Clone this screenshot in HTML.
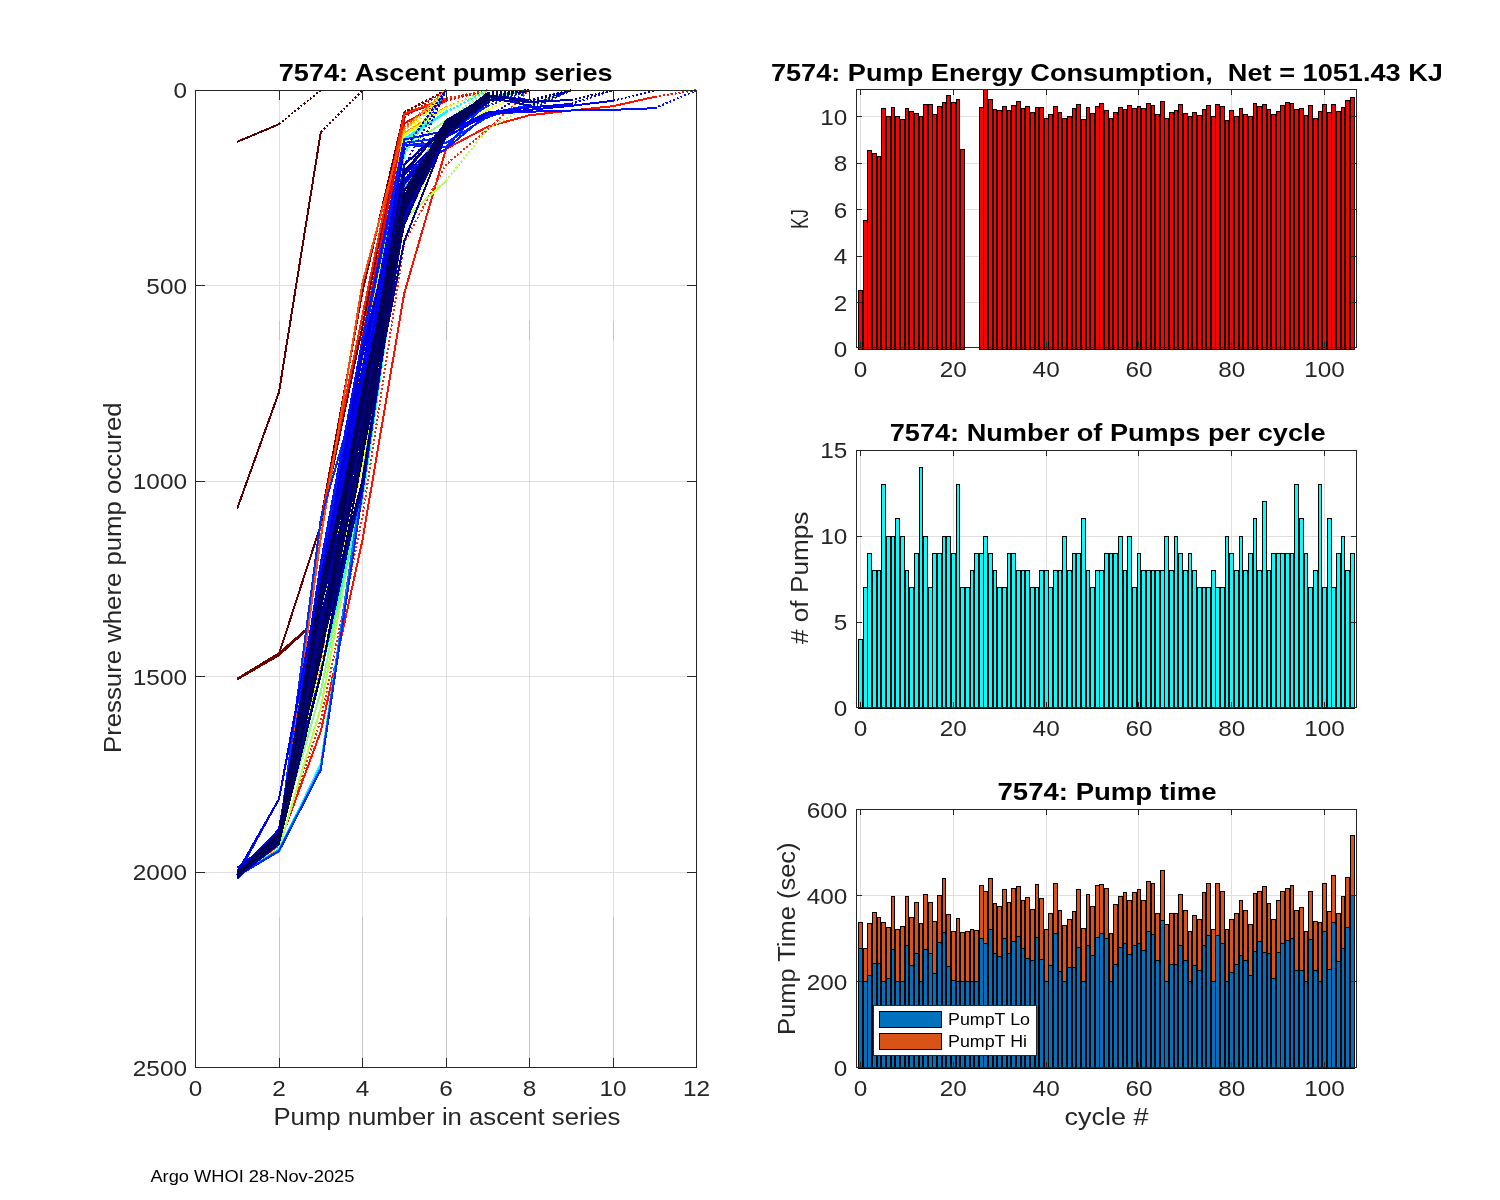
<!DOCTYPE html><html><head><meta charset="utf-8"><style>html,body{margin:0;padding:0;background:#fff;overflow:hidden}svg{display:block;will-change:transform}text{shape-rendering:auto}</style></head><body><svg width="1500" height="1200" viewBox="0 0 1500 1200" font-family="Liberation Sans, sans-serif" shape-rendering="crispEdges">
<rect width="1500" height="1200" fill="#fff"/>
<rect x="279" y="90" width="1" height="978" fill="#dfdfdf"/>
<rect x="279" y="321" width="1" height="19" fill="#c4c4c4"/>
<rect x="279" y="917" width="1" height="151" fill="#c4c4c4"/>
<rect x="362" y="90" width="1" height="978" fill="#dfdfdf"/>
<rect x="362" y="321" width="1" height="19" fill="#c4c4c4"/>
<rect x="362" y="917" width="1" height="151" fill="#c4c4c4"/>
<rect x="446" y="90" width="1" height="978" fill="#dfdfdf"/>
<rect x="446" y="321" width="1" height="19" fill="#c4c4c4"/>
<rect x="446" y="917" width="1" height="151" fill="#c4c4c4"/>
<rect x="529" y="90" width="1" height="978" fill="#dfdfdf"/>
<rect x="529" y="321" width="1" height="19" fill="#c4c4c4"/>
<rect x="529" y="917" width="1" height="151" fill="#c4c4c4"/>
<rect x="613" y="90" width="1" height="978" fill="#dfdfdf"/>
<rect x="613" y="321" width="1" height="19" fill="#c4c4c4"/>
<rect x="613" y="917" width="1" height="151" fill="#c4c4c4"/>
<rect x="195" y="285" width="502" height="1" fill="#dfdfdf"/>
<rect x="195" y="481" width="502" height="1" fill="#dfdfdf"/>
<rect x="195" y="676" width="502" height="1" fill="#dfdfdf"/>
<rect x="195" y="872" width="502" height="1" fill="#dfdfdf"/>
<g fill="none" stroke-width="2" stroke-linejoin="miter" shape-rendering="crispEdges">
<polyline stroke="#570000" points="237.2,141.8 279.0,124.2"/>
<polyline stroke="#570000" stroke-dasharray="2 2" points="279.0,124.2 320.8,90.2"/>
<polyline stroke="#610000" points="237.2,508.6 279.0,392.1 320.8,132.0"/>
<polyline stroke="#610000" stroke-dasharray="2 2" points="320.8,132.0 362.5,90.2"/>
<polyline stroke="#6b0000" points="237.2,679.4 279.0,654.0 320.8,525.0 362.5,326.4 404.2,112.1"/>
<polyline stroke="#6b0000" stroke-dasharray="2 2" points="404.2,112.1 446.0,90.2"/>
<polyline stroke="#6b0000" points="237.2,679.4 279.0,655.2 305.3,631.0"/>
<polyline stroke="#750000" points="237.2,678.7 279.0,653.2 305.3,630.2"/>
<polyline stroke="#800000" points="237.2,875.3 279.0,841.6 320.8,520.4 362.5,291.5 404.2,112.9"/>
<polyline stroke="#800000" stroke-dasharray="2 2" points="404.2,112.9 446.0,90.2"/>
<polyline stroke="#a80000" points="237.2,872.4 279.0,837.4 320.8,639.4 362.5,343.6 404.2,114.4 446.0,99.7"/>
<polyline stroke="#a80000" stroke-dasharray="2 2" points="446.0,99.7 487.8,90.2"/>
<polyline stroke="#d10000" points="237.2,875.7 279.0,842.5 320.8,605.7 362.5,389.7 404.2,117.6"/>
<polyline stroke="#d10000" stroke-dasharray="2 2" points="404.2,117.6 446.0,90.2"/>
<polyline stroke="#fa0000" points="237.2,876.3 279.0,838.1 320.8,610.7 362.5,337.3 404.2,123.4 446.0,100.7"/>
<polyline stroke="#fa0000" stroke-dasharray="2 2" points="446.0,100.7 487.8,90.2"/>
<polyline stroke="#ff2400" points="237.2,878.4 279.0,836.8 320.8,521.4 362.5,315.3 404.2,113.7 446.0,98.4"/>
<polyline stroke="#ff2400" stroke-dasharray="2 2" points="446.0,98.4 487.8,90.2"/>
<polyline stroke="#ff4c00" points="237.2,875.3 279.0,836.3 320.8,537.9 362.5,283.0 404.2,127.3"/>
<polyline stroke="#ff4c00" stroke-dasharray="2 2" points="404.2,127.3 446.0,90.2"/>
<polyline stroke="#ff7500" points="237.2,872.5 279.0,831.2 320.8,663.8 362.5,383.0 404.2,129.3"/>
<polyline stroke="#ff7500" stroke-dasharray="2 2" points="404.2,129.3 446.0,90.2"/>
<polyline stroke="#ff9e00" points="237.2,873.8 279.0,843.2 320.8,660.2 362.5,378.0 404.2,133.2 446.0,107.2"/>
<polyline stroke="#ff9e00" stroke-dasharray="2 2" points="446.0,107.2 487.8,90.2"/>
<polyline stroke="#ffc700" points="237.2,876.7 279.0,843.3 320.8,621.5 362.5,363.1 404.2,131.3"/>
<polyline stroke="#ffc700" stroke-dasharray="2 2" points="404.2,131.3 446.0,90.2"/>
<polyline stroke="#fff000" points="237.2,873.3 279.0,842.4 320.8,641.6 362.5,386.4 404.2,137.1"/>
<polyline stroke="#fff000" stroke-dasharray="2 2" points="404.2,137.1 446.0,90.2"/>
<polyline stroke="#e5ff1a" points="237.2,875.9 279.0,837.2 320.8,626.3 362.5,368.8 404.2,135.2 446.0,107.9"/>
<polyline stroke="#e5ff1a" stroke-dasharray="2 2" points="446.0,107.9 487.8,90.2"/>
<polyline stroke="#bdff42" points="237.2,874.5 279.0,836.4 320.8,660.1 362.5,386.3 404.2,144.9"/>
<polyline stroke="#bdff42" stroke-dasharray="2 2" points="404.2,144.9 446.0,90.2"/>
<polyline stroke="#94ff6b" points="237.2,870.3 279.0,839.2 320.8,614.4 362.5,366.5 404.2,148.9 446.0,120.7"/>
<polyline stroke="#94ff6b" stroke-dasharray="2 2" points="446.0,120.7 487.8,90.2"/>
<polyline stroke="#6bff94" points="237.2,878.4 279.0,839.9 320.8,653.5 362.5,397.0 404.2,152.8"/>
<polyline stroke="#6bff94" stroke-dasharray="2 2" points="404.2,152.8 446.0,90.2"/>
<polyline stroke="#42ffbd" points="237.2,873.8 279.0,840.2 320.8,609.8 362.5,381.3 404.2,141.0 446.0,112.4"/>
<polyline stroke="#42ffbd" stroke-dasharray="2 2" points="446.0,112.4 487.8,90.2"/>
<polyline stroke="#1affe5" points="237.2,875.0 279.0,837.2 320.8,643.4 362.5,407.9 404.2,154.7"/>
<polyline stroke="#1affe5" stroke-dasharray="2 2" points="404.2,154.7 446.0,90.2"/>
<polyline stroke="#00faff" points="237.2,875.1 279.0,834.3 320.8,588.0 362.5,374.8 404.2,139.1 446.0,111.9"/>
<polyline stroke="#00faff" stroke-dasharray="2 2" points="446.0,111.9 487.8,90.2"/>
<polyline stroke="#ff0f00" points="237.2,876.1 279.0,844.8 320.8,731.4 362.5,539.9 404.2,293.5 446.0,148.9 487.8,126.6 529.5,115.2 571.2,110.5 613.0,106.2 654.8,96.8"/>
<polyline stroke="#ff0f00" stroke-dasharray="2 2" points="654.8,96.8 696.5,90.2"/>
<polyline stroke="#ff2400" stroke-dasharray="2 2" points="237.2,875.3 279.0,846.8 320.8,719.7 362.5,516.4 404.2,242.7 446.0,164.5 487.8,129.3 529.5,90.2"/>
<polyline stroke="#b3ff4c" points="237.2,875.3 279.0,848.7 320.8,708.0 362.5,485.1 404.2,219.2 446.0,180.9"/>
<polyline stroke="#b3ff4c" stroke-dasharray="2 2" points="446.0,180.9 487.8,128.5 529.5,105.8 571.2,90.2"/>
<polyline stroke="#80ff80" points="237.2,872.0 279.0,836.7 320.8,691.4 362.5,484.5 404.2,199.7 446.0,137.1 487.8,109.8"/>
<polyline stroke="#80ff80" stroke-dasharray="2 2" points="487.8,109.8 529.5,90.2"/>
<polyline stroke="#2effd1" points="237.2,870.4 279.0,842.3 320.8,672.8 362.5,499.4 404.2,211.4 446.0,137.1 487.8,109.8"/>
<polyline stroke="#2effd1" stroke-dasharray="2 2" points="487.8,109.8 529.5,90.2"/>
<polyline stroke="#e5ff1a" points="237.2,876.6 279.0,837.6 320.8,649.3 362.5,464.6 404.2,223.1 446.0,137.1 487.8,109.8"/>
<polyline stroke="#e5ff1a" stroke-dasharray="2 2" points="487.8,109.8 529.5,90.2"/>
<polyline stroke="#faff05" stroke-dasharray="2 2" points="237.2,873.1 279.0,841.1 320.8,661.8 362.5,434.1 404.2,187.9 446.0,121.5 487.8,98.0 529.5,90.2"/>
<polyline stroke="#4dffb2" stroke-dasharray="2 2" points="237.2,871.3 279.0,838.6 320.8,639.1 362.5,396.1 404.2,187.9 446.0,121.5 487.8,98.0 529.5,90.2"/>
<polyline stroke="#00b2ff" stroke-dasharray="2 2" points="237.2,874.2 279.0,837.1 320.8,594.8 362.5,389.8 404.2,187.9 446.0,121.5 487.8,98.0 529.5,90.2"/>
<polyline stroke="#2effd1" points="237.2,876.1 279.0,851.5 320.8,763.6 362.5,482.4 404.2,207.5 446.0,133.2 487.8,105.8"/>
<polyline stroke="#2effd1" stroke-dasharray="2 2" points="487.8,105.8 529.5,90.2"/>
<polyline stroke="#00f0ff" points="237.2,876.1 279.0,849.6 320.8,766.1 362.5,490.0 404.2,207.5 446.0,133.2 487.8,105.8"/>
<polyline stroke="#00f0ff" stroke-dasharray="2 2" points="487.8,105.8 529.5,90.2"/>
<polyline stroke="#0080ff" points="237.2,876.1 279.0,850.0 320.8,768.2 362.5,478.4 404.2,207.5 446.0,133.2 487.8,105.8"/>
<polyline stroke="#0080ff" stroke-dasharray="2 2" points="487.8,105.8 529.5,90.2"/>
<polyline stroke="#0024ff" points="237.2,876.1 279.0,851.2 320.8,769.8 362.5,492.0 404.2,207.5 446.0,133.2 487.8,105.8"/>
<polyline stroke="#0024ff" stroke-dasharray="2 2" points="487.8,105.8 529.5,90.2"/>
<polyline stroke="#002eff" points="237.2,875.8 279.0,837.4 320.8,519.0 362.5,374.2 404.2,144.9 446.0,143.0 487.8,116.8 529.5,105.3"/>
<polyline stroke="#002eff" stroke-dasharray="2 2" points="529.5,105.3 571.2,90.2"/>
<polyline stroke="#0028ff" points="237.2,874.8 279.0,842.8 320.8,587.6 362.5,379.0 404.2,142.9 446.0,137.3 487.8,113.5 529.5,105.2"/>
<polyline stroke="#0028ff" stroke-dasharray="2 2" points="529.5,105.2 571.2,90.2"/>
<polyline stroke="#0021ff" points="237.2,872.0 279.0,840.4 320.8,568.1 362.5,345.5 404.2,144.8 446.0,147.5 487.8,101.1"/>
<polyline stroke="#0021ff" stroke-dasharray="2 2" points="487.8,101.1 529.5,90.2"/>
<polyline stroke="#001bff" points="237.2,875.3 279.0,798.9 320.8,582.1 362.5,412.9 404.2,172.5 446.0,149.0 487.8,113.9 529.5,110.3"/>
<polyline stroke="#001bff" stroke-dasharray="2 2" points="529.5,110.3 571.2,90.2"/>
<polyline stroke="#0015ff" points="237.2,878.5 279.0,841.6 320.8,562.8 362.5,339.6 404.2,139.5 446.0,130.9 487.8,114.7 529.5,106.8"/>
<polyline stroke="#0015ff" stroke-dasharray="2 2" points="529.5,106.8 571.2,90.2"/>
<polyline stroke="#000fff" points="237.2,875.2 279.0,842.6 320.8,563.9 362.5,391.1 404.2,180.1 446.0,133.2 487.8,113.7 529.5,111.7 571.2,110.5 613.0,109.8 654.8,108.2"/>
<polyline stroke="#000fff" stroke-dasharray="2 2" points="654.8,108.2 696.5,90.2"/>
<polyline stroke="#0008ff" points="237.2,873.7 279.0,837.4 320.8,582.3 362.5,367.9 404.2,165.6"/>
<polyline stroke="#0008ff" stroke-dasharray="2 2" points="404.2,165.6 446.0,90.2"/>
<polyline stroke="#0002ff" points="237.2,871.7 279.0,829.4 320.8,584.5 362.5,386.0 404.2,164.8 446.0,127.3 487.8,117.6"/>
<polyline stroke="#0002ff" stroke-dasharray="2 2" points="487.8,117.6 529.5,90.2"/>
<polyline stroke="#0000fb" points="237.2,877.1 279.0,844.0 320.8,593.3 362.5,376.0 404.2,183.3 446.0,132.5 487.8,112.5 529.5,107.5 571.2,103.9"/>
<polyline stroke="#0000fb" stroke-dasharray="2 2" points="571.2,103.9 613.0,90.2"/>
<polyline stroke="#0000f4" points="237.2,872.4 279.0,799.0 320.8,575.6 362.5,392.3 404.2,149.3"/>
<polyline stroke="#0000f4" stroke-dasharray="2 2" points="404.2,149.3 446.0,90.2"/>
<polyline stroke="#0000ee" points="237.2,871.9 279.0,839.6 320.8,599.8 362.5,384.6 404.2,183.3"/>
<polyline stroke="#0000ee" stroke-dasharray="2 2" points="404.2,183.3 446.0,90.2"/>
<polyline stroke="#0000e8" points="237.2,867.9 279.0,836.1 320.8,578.1 362.5,368.3 404.2,150.2"/>
<polyline stroke="#0000e8" stroke-dasharray="2 2" points="404.2,150.2 446.0,90.2"/>
<polyline stroke="#0000e2" points="237.2,874.5 279.0,836.3 320.8,580.6 362.5,348.6 404.2,184.0 446.0,137.1 487.8,114.4 529.5,109.8 571.2,105.8 613.0,100.8"/>
<polyline stroke="#0000e2" stroke-dasharray="2 2" points="613.0,100.8 654.8,90.2"/>
<polyline stroke="#0000d1" points="237.2,874.5 279.0,840.6 320.8,583.2 362.5,354.9 404.2,174.2 446.0,123.0 487.8,101.0"/>
<polyline stroke="#0000d1" stroke-dasharray="2 2" points="487.8,101.0 529.5,90.2"/>
<polyline stroke="#0000cd" points="237.2,873.7 279.0,834.4 320.8,673.1 362.5,481.4 404.2,219.3 446.0,137.1 487.8,99.7"/>
<polyline stroke="#0000cd" stroke-dasharray="2 2" points="487.8,99.7 529.5,90.2"/>
<polyline stroke="#0000c9" points="237.2,874.2 279.0,832.4 320.8,629.7 362.5,444.7 404.2,204.4 446.0,120.5 487.8,95.9"/>
<polyline stroke="#0000c9" stroke-dasharray="2 2" points="487.8,95.9 529.5,90.2"/>
<polyline stroke="#0000c4" points="237.2,875.1 279.0,839.2 320.8,656.1 362.5,446.5 404.2,216.8 446.0,131.7 487.8,95.3"/>
<polyline stroke="#0000c4" stroke-dasharray="2 2" points="487.8,95.3 529.5,90.2"/>
<polyline stroke="#0000c0" points="237.2,875.0 279.0,835.7 320.8,628.0 362.5,414.4 404.2,181.5 446.0,134.6 487.8,95.4 529.5,100.0"/>
<polyline stroke="#0000c0" stroke-dasharray="2 2" points="529.5,100.0 571.2,90.2"/>
<polyline stroke="#0000bc" points="237.2,873.8 279.0,838.1 320.8,591.7 362.5,420.7 404.2,174.4 446.0,135.9 487.8,96.6"/>
<polyline stroke="#0000bc" stroke-dasharray="2 2" points="487.8,96.6 529.5,90.2"/>
<polyline stroke="#0000b7" points="237.2,870.3 279.0,833.4 320.8,649.7 362.5,489.0 404.2,197.7 446.0,131.5 487.8,99.0"/>
<polyline stroke="#0000b7" stroke-dasharray="2 2" points="487.8,99.0 529.5,90.2"/>
<polyline stroke="#0000b3" points="237.2,877.1 279.0,839.1 320.8,605.2 362.5,452.3 404.2,196.4 446.0,128.1 487.8,99.0"/>
<polyline stroke="#0000b3" stroke-dasharray="2 2" points="487.8,99.0 529.5,90.2"/>
<polyline stroke="#0000af" points="237.2,877.0 279.0,843.4 320.8,648.2 362.5,414.7 404.2,204.0 446.0,133.6 487.8,99.6 529.5,101.9 571.2,100.0"/>
<polyline stroke="#0000af" stroke-dasharray="2 2" points="571.2,100.0 613.0,90.2"/>
<polyline stroke="#0000ab" points="237.2,871.9 279.0,838.0 320.8,603.0 362.5,418.1 404.2,164.6 446.0,126.5 487.8,100.5"/>
<polyline stroke="#0000ab" stroke-dasharray="2 2" points="487.8,100.5 529.5,90.2"/>
<polyline stroke="#0000a6" points="237.2,871.6 279.0,841.6 320.8,654.0 362.5,444.6 404.2,207.5 446.0,131.8 487.8,95.9"/>
<polyline stroke="#0000a6" stroke-dasharray="2 2" points="487.8,95.9 529.5,90.2"/>
<polyline stroke="#0000a2" points="237.2,872.0 279.0,836.3 320.8,624.1 362.5,445.3 404.2,210.0 446.0,127.2 487.8,96.9 529.5,105.6"/>
<polyline stroke="#0000a2" stroke-dasharray="2 2" points="529.5,105.6 571.2,90.2"/>
<polyline stroke="#00009e" points="237.2,873.1 279.0,842.6 320.8,627.4 362.5,427.5 404.2,205.2 446.0,128.6 487.8,96.8"/>
<polyline stroke="#00009e" stroke-dasharray="2 2" points="487.8,96.8 529.5,90.2"/>
<polyline stroke="#000099" points="237.2,872.3 279.0,840.4 320.8,631.8 362.5,455.6 404.2,241.4 446.0,134.6 487.8,95.5"/>
<polyline stroke="#000099" stroke-dasharray="2 2" points="487.8,95.5 529.5,90.2"/>
<polyline stroke="#000095" points="237.2,873.9 279.0,837.2 320.8,617.9 362.5,443.7 404.2,208.4 446.0,120.7 487.8,99.7"/>
<polyline stroke="#000095" stroke-dasharray="2 2" points="487.8,99.7 529.5,90.2"/>
<polyline stroke="#000091" points="237.2,872.4 279.0,838.4 320.8,642.8 362.5,436.9 404.2,199.5 446.0,128.2 487.8,98.2"/>
<polyline stroke="#000091" stroke-dasharray="2 2" points="487.8,98.2 529.5,90.2"/>
<polyline stroke="#00008d" points="237.2,875.8 279.0,843.5 320.8,599.8 362.5,446.2 404.2,200.7 446.0,123.7 487.8,95.2"/>
<polyline stroke="#00008d" stroke-dasharray="2 2" points="487.8,95.2 529.5,90.2"/>
<polyline stroke="#000088" points="237.2,873.9 279.0,840.6 320.8,656.2 362.5,445.2 404.2,206.4 446.0,132.1 487.8,102.7"/>
<polyline stroke="#000088" stroke-dasharray="2 2" points="487.8,102.7 529.5,90.2"/>
<polyline stroke="#000084" points="237.2,873.6 279.0,843.5 320.8,643.2 362.5,419.3 404.2,224.7 446.0,128.5 487.8,96.4"/>
<polyline stroke="#000084" stroke-dasharray="2 2" points="487.8,96.4 529.5,90.2"/>
<polyline stroke="#000080" points="237.2,873.2 279.0,843.9 320.8,608.2 362.5,396.3 404.2,203.9 446.0,122.8 487.8,95.2 529.5,101.8"/>
<polyline stroke="#000080" stroke-dasharray="2 2" points="529.5,101.8 571.2,90.2"/>
<polyline stroke="#00007c" points="237.2,873.7 279.0,836.5 320.8,638.8 362.5,401.0 404.2,203.0 446.0,130.8 487.8,99.9"/>
<polyline stroke="#00007c" stroke-dasharray="2 2" points="487.8,99.9 529.5,90.2"/>
<polyline stroke="#000077" points="237.2,875.1 279.0,841.6 320.8,609.0 362.5,390.7 404.2,205.5 446.0,126.0 487.8,92.8"/>
<polyline stroke="#000077" stroke-dasharray="2 2" points="487.8,92.8 529.5,90.2"/>
<polyline stroke="#000073" points="237.2,872.7 279.0,837.3 320.8,643.2 362.5,480.0 404.2,212.0 446.0,134.4 487.8,97.2"/>
<polyline stroke="#000073" stroke-dasharray="2 2" points="487.8,97.2 529.5,90.2"/>
<polyline stroke="#00006f" points="237.2,872.2 279.0,837.9 320.8,630.9 362.5,446.0 404.2,203.2 446.0,123.8 487.8,94.4"/>
<polyline stroke="#00006f" stroke-dasharray="2 2" points="487.8,94.4 529.5,90.2"/>
<polyline stroke="#00006a" points="237.2,875.1 279.0,836.5 320.8,643.4 362.5,443.4 404.2,203.8 446.0,133.9 487.8,95.4"/>
<polyline stroke="#00006a" stroke-dasharray="2 2" points="487.8,95.4 529.5,90.2"/>
<polyline stroke="#000066" points="237.2,874.4 279.0,839.1 320.8,590.3 362.5,409.0 404.2,171.1 446.0,125.6 487.8,97.5"/>
<polyline stroke="#000066" stroke-dasharray="2 2" points="487.8,97.5 529.5,90.2"/>
<polyline stroke="#000062" points="237.2,873.6 279.0,841.9 320.8,645.7 362.5,440.4 404.2,190.3 446.0,135.0 487.8,97.7"/>
<polyline stroke="#000062" stroke-dasharray="2 2" points="487.8,97.7 529.5,90.2"/>
<polyline stroke="#00005e" points="237.2,877.9 279.0,832.5 320.8,586.2 362.5,408.7 404.2,199.3 446.0,125.8 487.8,96.7"/>
<polyline stroke="#00005e" stroke-dasharray="2 2" points="487.8,96.7 529.5,90.2"/>
<polyline stroke="#000059" points="237.2,876.0 279.0,836.7 320.8,605.8 362.5,400.7 404.2,191.1 446.0,125.1 487.8,96.3"/>
<polyline stroke="#000059" stroke-dasharray="2 2" points="487.8,96.3 529.5,90.2"/>
<polyline stroke="#000055" points="237.2,873.1 279.0,835.6 320.8,588.9 362.5,428.2 404.2,195.9 446.0,121.4 487.8,96.8"/>
<polyline stroke="#000055" stroke-dasharray="2 2" points="487.8,96.8 529.5,90.2"/>
<polyline stroke="#000051" points="237.2,872.7 279.0,843.2 320.8,674.9 362.5,456.4 404.2,209.2 446.0,132.2 487.8,96.9"/>
<polyline stroke="#000051" stroke-dasharray="2 2" points="487.8,96.9 529.5,90.2"/>
<polyline stroke="#00004d" points="237.2,873.1 279.0,833.2 320.8,653.9 362.5,393.1 404.2,200.8 446.0,128.5 487.8,94.5"/>
<polyline stroke="#00004d" stroke-dasharray="2 2" points="487.8,94.5 529.5,90.2"/>
</g>
<rect x="195" y="90" width="502" height="1" fill="#262626"/>
<rect x="195" y="1067" width="502" height="1" fill="#262626"/>
<rect x="195" y="90" width="1" height="978" fill="#262626"/>
<rect x="696" y="90" width="1" height="978" fill="#262626"/>
<rect x="279" y="1058" width="1" height="10" fill="#262626"/>
<rect x="279" y="90" width="1" height="10" fill="#262626"/>
<rect x="362" y="1058" width="1" height="10" fill="#262626"/>
<rect x="362" y="90" width="1" height="10" fill="#262626"/>
<rect x="446" y="1058" width="1" height="10" fill="#262626"/>
<rect x="446" y="90" width="1" height="10" fill="#262626"/>
<rect x="529" y="1058" width="1" height="10" fill="#262626"/>
<rect x="529" y="90" width="1" height="10" fill="#262626"/>
<rect x="613" y="1058" width="1" height="10" fill="#262626"/>
<rect x="613" y="90" width="1" height="10" fill="#262626"/>
<rect x="195" y="285" width="10" height="1" fill="#262626"/>
<rect x="687" y="285" width="10" height="1" fill="#262626"/>
<rect x="195" y="481" width="10" height="1" fill="#262626"/>
<rect x="687" y="481" width="10" height="1" fill="#262626"/>
<rect x="195" y="676" width="10" height="1" fill="#262626"/>
<rect x="687" y="676" width="10" height="1" fill="#262626"/>
<rect x="195" y="872" width="10" height="1" fill="#262626"/>
<rect x="687" y="872" width="10" height="1" fill="#262626"/>
<text x="195.5" y="1095.7" font-size="21.9" text-anchor="middle" font-weight="normal" fill="#262626" textLength="13.55" lengthAdjust="spacingAndGlyphs">0</text>
<text x="279" y="1095.7" font-size="21.9" text-anchor="middle" font-weight="normal" fill="#262626" textLength="13.55" lengthAdjust="spacingAndGlyphs">2</text>
<text x="362.5" y="1095.7" font-size="21.9" text-anchor="middle" font-weight="normal" fill="#262626" textLength="13.55" lengthAdjust="spacingAndGlyphs">4</text>
<text x="446" y="1095.7" font-size="21.9" text-anchor="middle" font-weight="normal" fill="#262626" textLength="13.55" lengthAdjust="spacingAndGlyphs">6</text>
<text x="529.5" y="1095.7" font-size="21.9" text-anchor="middle" font-weight="normal" fill="#262626" textLength="13.55" lengthAdjust="spacingAndGlyphs">8</text>
<text x="613" y="1095.7" font-size="21.9" text-anchor="middle" font-weight="normal" fill="#262626" textLength="27.1" lengthAdjust="spacingAndGlyphs">10</text>
<text x="696.5" y="1095.7" font-size="21.9" text-anchor="middle" font-weight="normal" fill="#262626" textLength="27.1" lengthAdjust="spacingAndGlyphs">12</text>
<text x="187" y="98.2" font-size="21.9" text-anchor="end" font-weight="normal" fill="#262626" textLength="13.55" lengthAdjust="spacingAndGlyphs">0</text>
<text x="187" y="293.7" font-size="21.9" text-anchor="end" font-weight="normal" fill="#262626" textLength="40.65" lengthAdjust="spacingAndGlyphs">500</text>
<text x="187" y="489.2" font-size="21.9" text-anchor="end" font-weight="normal" fill="#262626" textLength="54.2" lengthAdjust="spacingAndGlyphs">1000</text>
<text x="187" y="684.7" font-size="21.9" text-anchor="end" font-weight="normal" fill="#262626" textLength="54.2" lengthAdjust="spacingAndGlyphs">1500</text>
<text x="187" y="880.2" font-size="21.9" text-anchor="end" font-weight="normal" fill="#262626" textLength="54.2" lengthAdjust="spacingAndGlyphs">2000</text>
<text x="187" y="1075.7" font-size="21.9" text-anchor="end" font-weight="normal" fill="#262626" textLength="54.2" lengthAdjust="spacingAndGlyphs">2500</text>
<text x="446.9" y="1124.9" font-size="24.4" text-anchor="middle" font-weight="normal" fill="#262626" textLength="347" lengthAdjust="spacingAndGlyphs">Pump number in ascent series</text>
<text transform="translate(121.2,577.7) rotate(-90)" font-size="24.4" text-anchor="middle" font-weight="normal" fill="#262626" textLength="350.5" lengthAdjust="spacingAndGlyphs">Pressure where pump occured</text>
<text x="445.7" y="81" font-size="24" text-anchor="middle" font-weight="bold" fill="#000" textLength="334" lengthAdjust="spacingAndGlyphs">7574: Ascent pump series</text>
<rect x="860" y="89" width="1" height="259" fill="#dfdfdf"/>
<rect x="953" y="89" width="1" height="259" fill="#dfdfdf"/>
<rect x="1046" y="89" width="1" height="259" fill="#dfdfdf"/>
<rect x="1138" y="89" width="1" height="259" fill="#dfdfdf"/>
<rect x="1231" y="89" width="1" height="259" fill="#dfdfdf"/>
<rect x="1324" y="89" width="1" height="259" fill="#dfdfdf"/>
<rect x="856" y="302" width="501" height="1" fill="#dfdfdf"/>
<rect x="856" y="256" width="501" height="1" fill="#dfdfdf"/>
<rect x="856" y="209" width="501" height="1" fill="#dfdfdf"/>
<rect x="856" y="163" width="501" height="1" fill="#dfdfdf"/>
<rect x="856" y="116" width="501" height="1" fill="#dfdfdf"/>
<rect x="858" y="290" width="5" height="60" fill="#000"/>
<rect x="859" y="291" width="3" height="58" fill="#ff0000"/>
<rect x="863" y="220" width="5" height="130" fill="#000"/>
<rect x="864" y="221" width="3" height="128" fill="#ff0000"/>
<rect x="867" y="150" width="5" height="200" fill="#000"/>
<rect x="868" y="151" width="3" height="198" fill="#ff0000"/>
<rect x="872" y="153" width="5" height="197" fill="#000"/>
<rect x="873" y="154" width="3" height="195" fill="#ff0000"/>
<rect x="877" y="156" width="4" height="194" fill="#000"/>
<rect x="878" y="157" width="2" height="192" fill="#ff0000"/>
<rect x="881" y="108" width="5" height="242" fill="#000"/>
<rect x="882" y="109" width="3" height="240" fill="#ff0000"/>
<rect x="886" y="116" width="5" height="234" fill="#000"/>
<rect x="887" y="117" width="3" height="232" fill="#ff0000"/>
<rect x="891" y="107" width="4" height="243" fill="#000"/>
<rect x="892" y="108" width="2" height="241" fill="#ff0000"/>
<rect x="895" y="116" width="5" height="234" fill="#000"/>
<rect x="896" y="117" width="3" height="232" fill="#ff0000"/>
<rect x="900" y="119" width="5" height="231" fill="#000"/>
<rect x="901" y="120" width="3" height="229" fill="#ff0000"/>
<rect x="905" y="108" width="4" height="242" fill="#000"/>
<rect x="906" y="109" width="2" height="240" fill="#ff0000"/>
<rect x="909" y="111" width="5" height="239" fill="#000"/>
<rect x="910" y="112" width="3" height="237" fill="#ff0000"/>
<rect x="914" y="113" width="5" height="237" fill="#000"/>
<rect x="915" y="114" width="3" height="235" fill="#ff0000"/>
<rect x="919" y="116" width="4" height="234" fill="#000"/>
<rect x="920" y="117" width="2" height="232" fill="#ff0000"/>
<rect x="923" y="104" width="5" height="246" fill="#000"/>
<rect x="924" y="105" width="3" height="244" fill="#ff0000"/>
<rect x="928" y="104" width="5" height="246" fill="#000"/>
<rect x="929" y="105" width="3" height="244" fill="#ff0000"/>
<rect x="932" y="114" width="5" height="236" fill="#000"/>
<rect x="933" y="115" width="3" height="234" fill="#ff0000"/>
<rect x="937" y="106" width="5" height="244" fill="#000"/>
<rect x="938" y="107" width="3" height="242" fill="#ff0000"/>
<rect x="942" y="102" width="4" height="248" fill="#000"/>
<rect x="943" y="103" width="2" height="246" fill="#ff0000"/>
<rect x="946" y="95" width="5" height="255" fill="#000"/>
<rect x="947" y="96" width="3" height="253" fill="#ff0000"/>
<rect x="951" y="102" width="5" height="248" fill="#000"/>
<rect x="952" y="103" width="3" height="246" fill="#ff0000"/>
<rect x="956" y="99" width="4" height="251" fill="#000"/>
<rect x="957" y="100" width="2" height="249" fill="#ff0000"/>
<rect x="960" y="149" width="5" height="201" fill="#000"/>
<rect x="961" y="150" width="3" height="199" fill="#ff0000"/>
<rect x="979" y="107" width="5" height="243" fill="#000"/>
<rect x="980" y="108" width="3" height="241" fill="#ff0000"/>
<rect x="983" y="89" width="5" height="261" fill="#000"/>
<rect x="984" y="90" width="3" height="259" fill="#ff0000"/>
<rect x="988" y="99" width="5" height="251" fill="#000"/>
<rect x="989" y="100" width="3" height="249" fill="#ff0000"/>
<rect x="993" y="109" width="4" height="241" fill="#000"/>
<rect x="994" y="110" width="2" height="239" fill="#ff0000"/>
<rect x="997" y="110" width="5" height="240" fill="#000"/>
<rect x="998" y="111" width="3" height="238" fill="#ff0000"/>
<rect x="1002" y="106" width="5" height="244" fill="#000"/>
<rect x="1003" y="107" width="3" height="242" fill="#ff0000"/>
<rect x="1007" y="110" width="4" height="240" fill="#000"/>
<rect x="1008" y="111" width="2" height="238" fill="#ff0000"/>
<rect x="1011" y="105" width="5" height="245" fill="#000"/>
<rect x="1012" y="106" width="3" height="243" fill="#ff0000"/>
<rect x="1016" y="101" width="5" height="249" fill="#000"/>
<rect x="1017" y="102" width="3" height="247" fill="#ff0000"/>
<rect x="1021" y="108" width="4" height="242" fill="#000"/>
<rect x="1022" y="109" width="2" height="240" fill="#ff0000"/>
<rect x="1025" y="106" width="5" height="244" fill="#000"/>
<rect x="1026" y="107" width="3" height="242" fill="#ff0000"/>
<rect x="1030" y="112" width="5" height="238" fill="#000"/>
<rect x="1031" y="113" width="3" height="236" fill="#ff0000"/>
<rect x="1035" y="107" width="4" height="243" fill="#000"/>
<rect x="1036" y="108" width="2" height="241" fill="#ff0000"/>
<rect x="1039" y="107" width="5" height="243" fill="#000"/>
<rect x="1040" y="108" width="3" height="241" fill="#ff0000"/>
<rect x="1044" y="118" width="5" height="232" fill="#000"/>
<rect x="1045" y="119" width="3" height="230" fill="#ff0000"/>
<rect x="1048" y="114" width="5" height="236" fill="#000"/>
<rect x="1049" y="115" width="3" height="234" fill="#ff0000"/>
<rect x="1053" y="106" width="5" height="244" fill="#000"/>
<rect x="1054" y="107" width="3" height="242" fill="#ff0000"/>
<rect x="1058" y="112" width="4" height="238" fill="#000"/>
<rect x="1059" y="113" width="2" height="236" fill="#ff0000"/>
<rect x="1062" y="118" width="5" height="232" fill="#000"/>
<rect x="1063" y="119" width="3" height="230" fill="#ff0000"/>
<rect x="1067" y="116" width="5" height="234" fill="#000"/>
<rect x="1068" y="117" width="3" height="232" fill="#ff0000"/>
<rect x="1072" y="108" width="4" height="242" fill="#000"/>
<rect x="1073" y="109" width="2" height="240" fill="#ff0000"/>
<rect x="1076" y="104" width="5" height="246" fill="#000"/>
<rect x="1077" y="105" width="3" height="244" fill="#ff0000"/>
<rect x="1081" y="119" width="5" height="231" fill="#000"/>
<rect x="1082" y="120" width="3" height="229" fill="#ff0000"/>
<rect x="1086" y="107" width="4" height="243" fill="#000"/>
<rect x="1087" y="108" width="2" height="241" fill="#ff0000"/>
<rect x="1090" y="113" width="5" height="237" fill="#000"/>
<rect x="1091" y="114" width="3" height="235" fill="#ff0000"/>
<rect x="1095" y="106" width="5" height="244" fill="#000"/>
<rect x="1096" y="107" width="3" height="242" fill="#ff0000"/>
<rect x="1099" y="103" width="5" height="247" fill="#000"/>
<rect x="1100" y="104" width="3" height="245" fill="#ff0000"/>
<rect x="1104" y="110" width="5" height="240" fill="#000"/>
<rect x="1105" y="111" width="3" height="238" fill="#ff0000"/>
<rect x="1109" y="118" width="4" height="232" fill="#000"/>
<rect x="1110" y="119" width="2" height="230" fill="#ff0000"/>
<rect x="1113" y="112" width="5" height="238" fill="#000"/>
<rect x="1114" y="113" width="3" height="236" fill="#ff0000"/>
<rect x="1118" y="107" width="5" height="243" fill="#000"/>
<rect x="1119" y="108" width="3" height="241" fill="#ff0000"/>
<rect x="1123" y="109" width="4" height="241" fill="#000"/>
<rect x="1124" y="110" width="2" height="239" fill="#ff0000"/>
<rect x="1127" y="105" width="5" height="245" fill="#000"/>
<rect x="1128" y="106" width="3" height="243" fill="#ff0000"/>
<rect x="1132" y="108" width="5" height="242" fill="#000"/>
<rect x="1133" y="109" width="3" height="240" fill="#ff0000"/>
<rect x="1137" y="106" width="4" height="244" fill="#000"/>
<rect x="1138" y="107" width="2" height="242" fill="#ff0000"/>
<rect x="1141" y="108" width="5" height="242" fill="#000"/>
<rect x="1142" y="109" width="3" height="240" fill="#ff0000"/>
<rect x="1146" y="103" width="5" height="247" fill="#000"/>
<rect x="1147" y="104" width="3" height="245" fill="#ff0000"/>
<rect x="1151" y="105" width="4" height="245" fill="#000"/>
<rect x="1152" y="106" width="2" height="243" fill="#ff0000"/>
<rect x="1155" y="114" width="5" height="236" fill="#000"/>
<rect x="1156" y="115" width="3" height="234" fill="#ff0000"/>
<rect x="1160" y="101" width="5" height="249" fill="#000"/>
<rect x="1161" y="102" width="3" height="247" fill="#ff0000"/>
<rect x="1164" y="118" width="5" height="232" fill="#000"/>
<rect x="1165" y="119" width="3" height="230" fill="#ff0000"/>
<rect x="1169" y="112" width="5" height="238" fill="#000"/>
<rect x="1170" y="113" width="3" height="236" fill="#ff0000"/>
<rect x="1174" y="110" width="4" height="240" fill="#000"/>
<rect x="1175" y="111" width="2" height="238" fill="#ff0000"/>
<rect x="1178" y="104" width="5" height="246" fill="#000"/>
<rect x="1179" y="105" width="3" height="244" fill="#ff0000"/>
<rect x="1183" y="113" width="5" height="237" fill="#000"/>
<rect x="1184" y="114" width="3" height="235" fill="#ff0000"/>
<rect x="1188" y="116" width="4" height="234" fill="#000"/>
<rect x="1189" y="117" width="2" height="232" fill="#ff0000"/>
<rect x="1192" y="112" width="5" height="238" fill="#000"/>
<rect x="1193" y="113" width="3" height="236" fill="#ff0000"/>
<rect x="1197" y="115" width="5" height="235" fill="#000"/>
<rect x="1198" y="116" width="3" height="233" fill="#ff0000"/>
<rect x="1202" y="109" width="4" height="241" fill="#000"/>
<rect x="1203" y="110" width="2" height="239" fill="#ff0000"/>
<rect x="1206" y="105" width="5" height="245" fill="#000"/>
<rect x="1207" y="106" width="3" height="243" fill="#ff0000"/>
<rect x="1211" y="116" width="5" height="234" fill="#000"/>
<rect x="1212" y="117" width="3" height="232" fill="#ff0000"/>
<rect x="1215" y="104" width="5" height="246" fill="#000"/>
<rect x="1216" y="105" width="3" height="244" fill="#ff0000"/>
<rect x="1220" y="106" width="5" height="244" fill="#000"/>
<rect x="1221" y="107" width="3" height="242" fill="#ff0000"/>
<rect x="1225" y="120" width="4" height="230" fill="#000"/>
<rect x="1226" y="121" width="2" height="228" fill="#ff0000"/>
<rect x="1229" y="110" width="5" height="240" fill="#000"/>
<rect x="1230" y="111" width="3" height="238" fill="#ff0000"/>
<rect x="1234" y="116" width="5" height="234" fill="#000"/>
<rect x="1235" y="117" width="3" height="232" fill="#ff0000"/>
<rect x="1239" y="108" width="4" height="242" fill="#000"/>
<rect x="1240" y="109" width="2" height="240" fill="#ff0000"/>
<rect x="1243" y="114" width="5" height="236" fill="#000"/>
<rect x="1244" y="115" width="3" height="234" fill="#ff0000"/>
<rect x="1248" y="116" width="5" height="234" fill="#000"/>
<rect x="1249" y="117" width="3" height="232" fill="#ff0000"/>
<rect x="1253" y="103" width="4" height="247" fill="#000"/>
<rect x="1254" y="104" width="2" height="245" fill="#ff0000"/>
<rect x="1257" y="106" width="5" height="244" fill="#000"/>
<rect x="1258" y="107" width="3" height="242" fill="#ff0000"/>
<rect x="1262" y="104" width="5" height="246" fill="#000"/>
<rect x="1263" y="105" width="3" height="244" fill="#ff0000"/>
<rect x="1267" y="109" width="4" height="241" fill="#000"/>
<rect x="1268" y="110" width="2" height="239" fill="#ff0000"/>
<rect x="1271" y="114" width="5" height="236" fill="#000"/>
<rect x="1272" y="115" width="3" height="234" fill="#ff0000"/>
<rect x="1276" y="111" width="5" height="239" fill="#000"/>
<rect x="1277" y="112" width="3" height="237" fill="#ff0000"/>
<rect x="1280" y="105" width="5" height="245" fill="#000"/>
<rect x="1281" y="106" width="3" height="243" fill="#ff0000"/>
<rect x="1285" y="102" width="5" height="248" fill="#000"/>
<rect x="1286" y="103" width="3" height="246" fill="#ff0000"/>
<rect x="1290" y="103" width="4" height="247" fill="#000"/>
<rect x="1291" y="104" width="2" height="245" fill="#ff0000"/>
<rect x="1294" y="109" width="5" height="241" fill="#000"/>
<rect x="1295" y="110" width="3" height="239" fill="#ff0000"/>
<rect x="1299" y="108" width="5" height="242" fill="#000"/>
<rect x="1300" y="109" width="3" height="240" fill="#ff0000"/>
<rect x="1304" y="115" width="4" height="235" fill="#000"/>
<rect x="1305" y="116" width="2" height="233" fill="#ff0000"/>
<rect x="1308" y="105" width="5" height="245" fill="#000"/>
<rect x="1309" y="106" width="3" height="243" fill="#ff0000"/>
<rect x="1313" y="118" width="5" height="232" fill="#000"/>
<rect x="1314" y="119" width="3" height="230" fill="#ff0000"/>
<rect x="1318" y="111" width="4" height="239" fill="#000"/>
<rect x="1319" y="112" width="2" height="237" fill="#ff0000"/>
<rect x="1322" y="104" width="5" height="246" fill="#000"/>
<rect x="1323" y="105" width="3" height="244" fill="#ff0000"/>
<rect x="1327" y="112" width="5" height="238" fill="#000"/>
<rect x="1328" y="113" width="3" height="236" fill="#ff0000"/>
<rect x="1331" y="104" width="5" height="246" fill="#000"/>
<rect x="1332" y="105" width="3" height="244" fill="#ff0000"/>
<rect x="1336" y="111" width="5" height="239" fill="#000"/>
<rect x="1337" y="112" width="3" height="237" fill="#ff0000"/>
<rect x="1341" y="107" width="4" height="243" fill="#000"/>
<rect x="1342" y="108" width="2" height="241" fill="#ff0000"/>
<rect x="1345" y="100" width="5" height="250" fill="#000"/>
<rect x="1346" y="101" width="3" height="248" fill="#ff0000"/>
<rect x="1350" y="97" width="5" height="253" fill="#000"/>
<rect x="1351" y="98" width="3" height="251" fill="#ff0000"/>
<rect x="856" y="89" width="501" height="1" fill="#262626"/>
<rect x="856" y="347" width="501" height="1" fill="#262626"/>
<rect x="856" y="89" width="1" height="259" fill="#262626"/>
<rect x="1356" y="89" width="1" height="259" fill="#262626"/>
<rect x="860" y="342" width="1" height="6" fill="#262626"/>
<rect x="860" y="89" width="1" height="6" fill="#262626"/>
<text x="860.55" y="377" font-size="21.9" text-anchor="middle" font-weight="normal" fill="#262626" textLength="13.55" lengthAdjust="spacingAndGlyphs">0</text>
<rect x="953" y="342" width="1" height="6" fill="#262626"/>
<rect x="953" y="89" width="1" height="6" fill="#262626"/>
<text x="953.35" y="377" font-size="21.9" text-anchor="middle" font-weight="normal" fill="#262626" textLength="27.1" lengthAdjust="spacingAndGlyphs">20</text>
<rect x="1046" y="342" width="1" height="6" fill="#262626"/>
<rect x="1046" y="89" width="1" height="6" fill="#262626"/>
<text x="1046.15" y="377" font-size="21.9" text-anchor="middle" font-weight="normal" fill="#262626" textLength="27.1" lengthAdjust="spacingAndGlyphs">40</text>
<rect x="1138" y="342" width="1" height="6" fill="#262626"/>
<rect x="1138" y="89" width="1" height="6" fill="#262626"/>
<text x="1138.95" y="377" font-size="21.9" text-anchor="middle" font-weight="normal" fill="#262626" textLength="27.1" lengthAdjust="spacingAndGlyphs">60</text>
<rect x="1231" y="342" width="1" height="6" fill="#262626"/>
<rect x="1231" y="89" width="1" height="6" fill="#262626"/>
<text x="1231.75" y="377" font-size="21.9" text-anchor="middle" font-weight="normal" fill="#262626" textLength="27.1" lengthAdjust="spacingAndGlyphs">80</text>
<rect x="1324" y="342" width="1" height="6" fill="#262626"/>
<rect x="1324" y="89" width="1" height="6" fill="#262626"/>
<text x="1324.55" y="377" font-size="21.9" text-anchor="middle" font-weight="normal" fill="#262626" textLength="40.65" lengthAdjust="spacingAndGlyphs">100</text>
<text x="847.3" y="357.3" font-size="21.9" text-anchor="end" font-weight="normal" fill="#262626" textLength="13.55" lengthAdjust="spacingAndGlyphs">0</text>
<rect x="856" y="302" width="6" height="1" fill="#262626"/>
<rect x="1351" y="302" width="6" height="1" fill="#262626"/>
<text x="847.3" y="310.8" font-size="21.9" text-anchor="end" font-weight="normal" fill="#262626" textLength="13.55" lengthAdjust="spacingAndGlyphs">2</text>
<rect x="856" y="256" width="6" height="1" fill="#262626"/>
<rect x="1351" y="256" width="6" height="1" fill="#262626"/>
<text x="847.3" y="264.3" font-size="21.9" text-anchor="end" font-weight="normal" fill="#262626" textLength="13.55" lengthAdjust="spacingAndGlyphs">4</text>
<rect x="856" y="209" width="6" height="1" fill="#262626"/>
<rect x="1351" y="209" width="6" height="1" fill="#262626"/>
<text x="847.3" y="217.8" font-size="21.9" text-anchor="end" font-weight="normal" fill="#262626" textLength="13.55" lengthAdjust="spacingAndGlyphs">6</text>
<rect x="856" y="163" width="6" height="1" fill="#262626"/>
<rect x="1351" y="163" width="6" height="1" fill="#262626"/>
<text x="847.3" y="171.3" font-size="21.9" text-anchor="end" font-weight="normal" fill="#262626" textLength="13.55" lengthAdjust="spacingAndGlyphs">8</text>
<rect x="856" y="116" width="6" height="1" fill="#262626"/>
<rect x="1351" y="116" width="6" height="1" fill="#262626"/>
<text x="847.3" y="124.8" font-size="21.9" text-anchor="end" font-weight="normal" fill="#262626" textLength="27.1" lengthAdjust="spacingAndGlyphs">10</text>
<text x="1106.9" y="80.6" font-size="24" text-anchor="middle" font-weight="bold" fill="#000" textLength="672" lengthAdjust="spacingAndGlyphs">7574: Pump Energy Consumption,&#160; Net = 1051.43 KJ</text>
<text transform="translate(808,219) rotate(-90)" font-size="24.4" text-anchor="middle" font-weight="normal" fill="#262626" textLength="19.5" lengthAdjust="spacingAndGlyphs">KJ</text>
<rect x="860" y="450" width="1" height="258" fill="#dfdfdf"/>
<rect x="953" y="450" width="1" height="258" fill="#dfdfdf"/>
<rect x="1046" y="450" width="1" height="258" fill="#dfdfdf"/>
<rect x="1138" y="450" width="1" height="258" fill="#dfdfdf"/>
<rect x="1231" y="450" width="1" height="258" fill="#dfdfdf"/>
<rect x="1324" y="450" width="1" height="258" fill="#dfdfdf"/>
<rect x="856" y="622" width="501" height="1" fill="#dfdfdf"/>
<rect x="856" y="536" width="501" height="1" fill="#dfdfdf"/>
<rect x="858" y="639" width="5" height="70" fill="#000"/>
<rect x="859" y="640" width="3" height="68" fill="#00ffff"/>
<rect x="863" y="587" width="5" height="122" fill="#000"/>
<rect x="864" y="588" width="3" height="120" fill="#00ffff"/>
<rect x="867" y="553" width="5" height="156" fill="#000"/>
<rect x="868" y="554" width="3" height="154" fill="#00ffff"/>
<rect x="872" y="570" width="5" height="139" fill="#000"/>
<rect x="873" y="571" width="3" height="137" fill="#00ffff"/>
<rect x="877" y="570" width="4" height="139" fill="#000"/>
<rect x="878" y="571" width="2" height="137" fill="#00ffff"/>
<rect x="881" y="484" width="5" height="225" fill="#000"/>
<rect x="882" y="485" width="3" height="223" fill="#00ffff"/>
<rect x="886" y="536" width="5" height="173" fill="#000"/>
<rect x="887" y="537" width="3" height="171" fill="#00ffff"/>
<rect x="891" y="536" width="4" height="173" fill="#000"/>
<rect x="892" y="537" width="2" height="171" fill="#00ffff"/>
<rect x="895" y="518" width="5" height="191" fill="#000"/>
<rect x="896" y="519" width="3" height="189" fill="#00ffff"/>
<rect x="900" y="536" width="5" height="173" fill="#000"/>
<rect x="901" y="537" width="3" height="171" fill="#00ffff"/>
<rect x="905" y="570" width="4" height="139" fill="#000"/>
<rect x="906" y="571" width="2" height="137" fill="#00ffff"/>
<rect x="909" y="587" width="5" height="122" fill="#000"/>
<rect x="910" y="588" width="3" height="120" fill="#00ffff"/>
<rect x="914" y="553" width="5" height="156" fill="#000"/>
<rect x="915" y="554" width="3" height="154" fill="#00ffff"/>
<rect x="919" y="467" width="4" height="242" fill="#000"/>
<rect x="920" y="468" width="2" height="240" fill="#00ffff"/>
<rect x="923" y="536" width="5" height="173" fill="#000"/>
<rect x="924" y="537" width="3" height="171" fill="#00ffff"/>
<rect x="928" y="587" width="5" height="122" fill="#000"/>
<rect x="929" y="588" width="3" height="120" fill="#00ffff"/>
<rect x="932" y="553" width="5" height="156" fill="#000"/>
<rect x="933" y="554" width="3" height="154" fill="#00ffff"/>
<rect x="937" y="553" width="5" height="156" fill="#000"/>
<rect x="938" y="554" width="3" height="154" fill="#00ffff"/>
<rect x="942" y="536" width="4" height="173" fill="#000"/>
<rect x="943" y="537" width="2" height="171" fill="#00ffff"/>
<rect x="946" y="536" width="5" height="173" fill="#000"/>
<rect x="947" y="537" width="3" height="171" fill="#00ffff"/>
<rect x="951" y="553" width="5" height="156" fill="#000"/>
<rect x="952" y="554" width="3" height="154" fill="#00ffff"/>
<rect x="956" y="484" width="4" height="225" fill="#000"/>
<rect x="957" y="485" width="2" height="223" fill="#00ffff"/>
<rect x="960" y="587" width="5" height="122" fill="#000"/>
<rect x="961" y="588" width="3" height="120" fill="#00ffff"/>
<rect x="965" y="587" width="5" height="122" fill="#000"/>
<rect x="966" y="588" width="3" height="120" fill="#00ffff"/>
<rect x="970" y="570" width="4" height="139" fill="#000"/>
<rect x="971" y="571" width="2" height="137" fill="#00ffff"/>
<rect x="974" y="553" width="5" height="156" fill="#000"/>
<rect x="975" y="554" width="3" height="154" fill="#00ffff"/>
<rect x="979" y="553" width="5" height="156" fill="#000"/>
<rect x="980" y="554" width="3" height="154" fill="#00ffff"/>
<rect x="983" y="536" width="5" height="173" fill="#000"/>
<rect x="984" y="537" width="3" height="171" fill="#00ffff"/>
<rect x="988" y="553" width="5" height="156" fill="#000"/>
<rect x="989" y="554" width="3" height="154" fill="#00ffff"/>
<rect x="993" y="570" width="4" height="139" fill="#000"/>
<rect x="994" y="571" width="2" height="137" fill="#00ffff"/>
<rect x="997" y="587" width="5" height="122" fill="#000"/>
<rect x="998" y="588" width="3" height="120" fill="#00ffff"/>
<rect x="1002" y="587" width="5" height="122" fill="#000"/>
<rect x="1003" y="588" width="3" height="120" fill="#00ffff"/>
<rect x="1007" y="553" width="4" height="156" fill="#000"/>
<rect x="1008" y="554" width="2" height="154" fill="#00ffff"/>
<rect x="1011" y="553" width="5" height="156" fill="#000"/>
<rect x="1012" y="554" width="3" height="154" fill="#00ffff"/>
<rect x="1016" y="570" width="5" height="139" fill="#000"/>
<rect x="1017" y="571" width="3" height="137" fill="#00ffff"/>
<rect x="1021" y="570" width="4" height="139" fill="#000"/>
<rect x="1022" y="571" width="2" height="137" fill="#00ffff"/>
<rect x="1025" y="570" width="5" height="139" fill="#000"/>
<rect x="1026" y="571" width="3" height="137" fill="#00ffff"/>
<rect x="1030" y="587" width="5" height="122" fill="#000"/>
<rect x="1031" y="588" width="3" height="120" fill="#00ffff"/>
<rect x="1035" y="587" width="4" height="122" fill="#000"/>
<rect x="1036" y="588" width="2" height="120" fill="#00ffff"/>
<rect x="1039" y="570" width="5" height="139" fill="#000"/>
<rect x="1040" y="571" width="3" height="137" fill="#00ffff"/>
<rect x="1044" y="570" width="5" height="139" fill="#000"/>
<rect x="1045" y="571" width="3" height="137" fill="#00ffff"/>
<rect x="1048" y="587" width="5" height="122" fill="#000"/>
<rect x="1049" y="588" width="3" height="120" fill="#00ffff"/>
<rect x="1053" y="570" width="5" height="139" fill="#000"/>
<rect x="1054" y="571" width="3" height="137" fill="#00ffff"/>
<rect x="1058" y="570" width="4" height="139" fill="#000"/>
<rect x="1059" y="571" width="2" height="137" fill="#00ffff"/>
<rect x="1062" y="536" width="5" height="173" fill="#000"/>
<rect x="1063" y="537" width="3" height="171" fill="#00ffff"/>
<rect x="1067" y="570" width="5" height="139" fill="#000"/>
<rect x="1068" y="571" width="3" height="137" fill="#00ffff"/>
<rect x="1072" y="553" width="4" height="156" fill="#000"/>
<rect x="1073" y="554" width="2" height="154" fill="#00ffff"/>
<rect x="1076" y="553" width="5" height="156" fill="#000"/>
<rect x="1077" y="554" width="3" height="154" fill="#00ffff"/>
<rect x="1081" y="518" width="5" height="191" fill="#000"/>
<rect x="1082" y="519" width="3" height="189" fill="#00ffff"/>
<rect x="1086" y="570" width="4" height="139" fill="#000"/>
<rect x="1087" y="571" width="2" height="137" fill="#00ffff"/>
<rect x="1090" y="587" width="5" height="122" fill="#000"/>
<rect x="1091" y="588" width="3" height="120" fill="#00ffff"/>
<rect x="1095" y="570" width="5" height="139" fill="#000"/>
<rect x="1096" y="571" width="3" height="137" fill="#00ffff"/>
<rect x="1099" y="570" width="5" height="139" fill="#000"/>
<rect x="1100" y="571" width="3" height="137" fill="#00ffff"/>
<rect x="1104" y="553" width="5" height="156" fill="#000"/>
<rect x="1105" y="554" width="3" height="154" fill="#00ffff"/>
<rect x="1109" y="553" width="4" height="156" fill="#000"/>
<rect x="1110" y="554" width="2" height="154" fill="#00ffff"/>
<rect x="1113" y="553" width="5" height="156" fill="#000"/>
<rect x="1114" y="554" width="3" height="154" fill="#00ffff"/>
<rect x="1118" y="536" width="5" height="173" fill="#000"/>
<rect x="1119" y="537" width="3" height="171" fill="#00ffff"/>
<rect x="1123" y="570" width="4" height="139" fill="#000"/>
<rect x="1124" y="571" width="2" height="137" fill="#00ffff"/>
<rect x="1127" y="536" width="5" height="173" fill="#000"/>
<rect x="1128" y="537" width="3" height="171" fill="#00ffff"/>
<rect x="1132" y="587" width="5" height="122" fill="#000"/>
<rect x="1133" y="588" width="3" height="120" fill="#00ffff"/>
<rect x="1137" y="553" width="4" height="156" fill="#000"/>
<rect x="1138" y="554" width="2" height="154" fill="#00ffff"/>
<rect x="1141" y="570" width="5" height="139" fill="#000"/>
<rect x="1142" y="571" width="3" height="137" fill="#00ffff"/>
<rect x="1146" y="570" width="5" height="139" fill="#000"/>
<rect x="1147" y="571" width="3" height="137" fill="#00ffff"/>
<rect x="1151" y="570" width="4" height="139" fill="#000"/>
<rect x="1152" y="571" width="2" height="137" fill="#00ffff"/>
<rect x="1155" y="570" width="5" height="139" fill="#000"/>
<rect x="1156" y="571" width="3" height="137" fill="#00ffff"/>
<rect x="1160" y="570" width="5" height="139" fill="#000"/>
<rect x="1161" y="571" width="3" height="137" fill="#00ffff"/>
<rect x="1164" y="536" width="5" height="173" fill="#000"/>
<rect x="1165" y="537" width="3" height="171" fill="#00ffff"/>
<rect x="1169" y="570" width="5" height="139" fill="#000"/>
<rect x="1170" y="571" width="3" height="137" fill="#00ffff"/>
<rect x="1174" y="536" width="4" height="173" fill="#000"/>
<rect x="1175" y="537" width="2" height="171" fill="#00ffff"/>
<rect x="1178" y="553" width="5" height="156" fill="#000"/>
<rect x="1179" y="554" width="3" height="154" fill="#00ffff"/>
<rect x="1183" y="570" width="5" height="139" fill="#000"/>
<rect x="1184" y="571" width="3" height="137" fill="#00ffff"/>
<rect x="1188" y="553" width="4" height="156" fill="#000"/>
<rect x="1189" y="554" width="2" height="154" fill="#00ffff"/>
<rect x="1192" y="570" width="5" height="139" fill="#000"/>
<rect x="1193" y="571" width="3" height="137" fill="#00ffff"/>
<rect x="1197" y="587" width="5" height="122" fill="#000"/>
<rect x="1198" y="588" width="3" height="120" fill="#00ffff"/>
<rect x="1202" y="587" width="4" height="122" fill="#000"/>
<rect x="1203" y="588" width="2" height="120" fill="#00ffff"/>
<rect x="1206" y="587" width="5" height="122" fill="#000"/>
<rect x="1207" y="588" width="3" height="120" fill="#00ffff"/>
<rect x="1211" y="570" width="5" height="139" fill="#000"/>
<rect x="1212" y="571" width="3" height="137" fill="#00ffff"/>
<rect x="1215" y="587" width="5" height="122" fill="#000"/>
<rect x="1216" y="588" width="3" height="120" fill="#00ffff"/>
<rect x="1220" y="587" width="5" height="122" fill="#000"/>
<rect x="1221" y="588" width="3" height="120" fill="#00ffff"/>
<rect x="1225" y="536" width="4" height="173" fill="#000"/>
<rect x="1226" y="537" width="2" height="171" fill="#00ffff"/>
<rect x="1229" y="553" width="5" height="156" fill="#000"/>
<rect x="1230" y="554" width="3" height="154" fill="#00ffff"/>
<rect x="1234" y="570" width="5" height="139" fill="#000"/>
<rect x="1235" y="571" width="3" height="137" fill="#00ffff"/>
<rect x="1239" y="536" width="4" height="173" fill="#000"/>
<rect x="1240" y="537" width="2" height="171" fill="#00ffff"/>
<rect x="1243" y="570" width="5" height="139" fill="#000"/>
<rect x="1244" y="571" width="3" height="137" fill="#00ffff"/>
<rect x="1248" y="553" width="5" height="156" fill="#000"/>
<rect x="1249" y="554" width="3" height="154" fill="#00ffff"/>
<rect x="1253" y="518" width="4" height="191" fill="#000"/>
<rect x="1254" y="519" width="2" height="189" fill="#00ffff"/>
<rect x="1257" y="570" width="5" height="139" fill="#000"/>
<rect x="1258" y="571" width="3" height="137" fill="#00ffff"/>
<rect x="1262" y="501" width="5" height="208" fill="#000"/>
<rect x="1263" y="502" width="3" height="206" fill="#00ffff"/>
<rect x="1267" y="570" width="4" height="139" fill="#000"/>
<rect x="1268" y="571" width="2" height="137" fill="#00ffff"/>
<rect x="1271" y="553" width="5" height="156" fill="#000"/>
<rect x="1272" y="554" width="3" height="154" fill="#00ffff"/>
<rect x="1276" y="553" width="5" height="156" fill="#000"/>
<rect x="1277" y="554" width="3" height="154" fill="#00ffff"/>
<rect x="1280" y="553" width="5" height="156" fill="#000"/>
<rect x="1281" y="554" width="3" height="154" fill="#00ffff"/>
<rect x="1285" y="553" width="5" height="156" fill="#000"/>
<rect x="1286" y="554" width="3" height="154" fill="#00ffff"/>
<rect x="1290" y="553" width="4" height="156" fill="#000"/>
<rect x="1291" y="554" width="2" height="154" fill="#00ffff"/>
<rect x="1294" y="484" width="5" height="225" fill="#000"/>
<rect x="1295" y="485" width="3" height="223" fill="#00ffff"/>
<rect x="1299" y="518" width="5" height="191" fill="#000"/>
<rect x="1300" y="519" width="3" height="189" fill="#00ffff"/>
<rect x="1304" y="553" width="4" height="156" fill="#000"/>
<rect x="1305" y="554" width="2" height="154" fill="#00ffff"/>
<rect x="1308" y="587" width="5" height="122" fill="#000"/>
<rect x="1309" y="588" width="3" height="120" fill="#00ffff"/>
<rect x="1313" y="570" width="5" height="139" fill="#000"/>
<rect x="1314" y="571" width="3" height="137" fill="#00ffff"/>
<rect x="1318" y="484" width="4" height="225" fill="#000"/>
<rect x="1319" y="485" width="2" height="223" fill="#00ffff"/>
<rect x="1322" y="587" width="5" height="122" fill="#000"/>
<rect x="1323" y="588" width="3" height="120" fill="#00ffff"/>
<rect x="1327" y="518" width="5" height="191" fill="#000"/>
<rect x="1328" y="519" width="3" height="189" fill="#00ffff"/>
<rect x="1331" y="587" width="5" height="122" fill="#000"/>
<rect x="1332" y="588" width="3" height="120" fill="#00ffff"/>
<rect x="1336" y="553" width="5" height="156" fill="#000"/>
<rect x="1337" y="554" width="3" height="154" fill="#00ffff"/>
<rect x="1341" y="536" width="4" height="173" fill="#000"/>
<rect x="1342" y="537" width="2" height="171" fill="#00ffff"/>
<rect x="1345" y="570" width="5" height="139" fill="#000"/>
<rect x="1346" y="571" width="3" height="137" fill="#00ffff"/>
<rect x="1350" y="553" width="5" height="156" fill="#000"/>
<rect x="1351" y="554" width="3" height="154" fill="#00ffff"/>
<rect x="856" y="450" width="501" height="1" fill="#262626"/>
<rect x="856" y="707" width="501" height="1" fill="#262626"/>
<rect x="856" y="450" width="1" height="258" fill="#262626"/>
<rect x="1356" y="450" width="1" height="258" fill="#262626"/>
<rect x="860" y="702" width="1" height="6" fill="#262626"/>
<rect x="860" y="450" width="1" height="6" fill="#262626"/>
<text x="860.55" y="736" font-size="21.9" text-anchor="middle" font-weight="normal" fill="#262626" textLength="13.55" lengthAdjust="spacingAndGlyphs">0</text>
<rect x="953" y="702" width="1" height="6" fill="#262626"/>
<rect x="953" y="450" width="1" height="6" fill="#262626"/>
<text x="953.35" y="736" font-size="21.9" text-anchor="middle" font-weight="normal" fill="#262626" textLength="27.1" lengthAdjust="spacingAndGlyphs">20</text>
<rect x="1046" y="702" width="1" height="6" fill="#262626"/>
<rect x="1046" y="450" width="1" height="6" fill="#262626"/>
<text x="1046.15" y="736" font-size="21.9" text-anchor="middle" font-weight="normal" fill="#262626" textLength="27.1" lengthAdjust="spacingAndGlyphs">40</text>
<rect x="1138" y="702" width="1" height="6" fill="#262626"/>
<rect x="1138" y="450" width="1" height="6" fill="#262626"/>
<text x="1138.95" y="736" font-size="21.9" text-anchor="middle" font-weight="normal" fill="#262626" textLength="27.1" lengthAdjust="spacingAndGlyphs">60</text>
<rect x="1231" y="702" width="1" height="6" fill="#262626"/>
<rect x="1231" y="450" width="1" height="6" fill="#262626"/>
<text x="1231.75" y="736" font-size="21.9" text-anchor="middle" font-weight="normal" fill="#262626" textLength="27.1" lengthAdjust="spacingAndGlyphs">80</text>
<rect x="1324" y="702" width="1" height="6" fill="#262626"/>
<rect x="1324" y="450" width="1" height="6" fill="#262626"/>
<text x="1324.55" y="736" font-size="21.9" text-anchor="middle" font-weight="normal" fill="#262626" textLength="40.65" lengthAdjust="spacingAndGlyphs">100</text>
<text x="847.3" y="716.32" font-size="21.9" text-anchor="end" font-weight="normal" fill="#262626" textLength="13.55" lengthAdjust="spacingAndGlyphs">0</text>
<rect x="856" y="622" width="6" height="1" fill="#262626"/>
<rect x="1351" y="622" width="6" height="1" fill="#262626"/>
<text x="847.3" y="630.32" font-size="21.9" text-anchor="end" font-weight="normal" fill="#262626" textLength="13.55" lengthAdjust="spacingAndGlyphs">5</text>
<rect x="856" y="536" width="6" height="1" fill="#262626"/>
<rect x="1351" y="536" width="6" height="1" fill="#262626"/>
<text x="847.3" y="544.32" font-size="21.9" text-anchor="end" font-weight="normal" fill="#262626" textLength="27.1" lengthAdjust="spacingAndGlyphs">10</text>
<text x="847.3" y="458.32" font-size="21.9" text-anchor="end" font-weight="normal" fill="#262626" textLength="27.1" lengthAdjust="spacingAndGlyphs">15</text>
<text x="1107.7" y="441" font-size="24" text-anchor="middle" font-weight="bold" fill="#000" textLength="436" lengthAdjust="spacingAndGlyphs">7574: Number of Pumps per cycle</text>
<text transform="translate(808,577.8) rotate(-90)" font-size="24.4" text-anchor="middle" font-weight="normal" fill="#262626" textLength="132.5" lengthAdjust="spacingAndGlyphs"># of Pumps</text>
<rect x="860" y="809" width="1" height="259" fill="#dfdfdf"/>
<rect x="953" y="809" width="1" height="259" fill="#dfdfdf"/>
<rect x="1046" y="809" width="1" height="259" fill="#dfdfdf"/>
<rect x="1138" y="809" width="1" height="259" fill="#dfdfdf"/>
<rect x="1231" y="809" width="1" height="259" fill="#dfdfdf"/>
<rect x="1324" y="809" width="1" height="259" fill="#dfdfdf"/>
<rect x="856" y="981" width="501" height="1" fill="#dfdfdf"/>
<rect x="856" y="895" width="501" height="1" fill="#dfdfdf"/>
<rect x="858" y="948" width="5" height="121" fill="#000"/>
<rect x="859" y="949" width="3" height="119" fill="#0072bd"/>
<rect x="858" y="922" width="5" height="27" fill="#000"/>
<rect x="859" y="923" width="3" height="25" fill="#d95319"/>
<rect x="863" y="981" width="5" height="88" fill="#000"/>
<rect x="864" y="982" width="3" height="86" fill="#0072bd"/>
<rect x="863" y="948" width="5" height="34" fill="#000"/>
<rect x="864" y="949" width="3" height="32" fill="#d95319"/>
<rect x="867" y="975" width="5" height="94" fill="#000"/>
<rect x="868" y="976" width="3" height="92" fill="#0072bd"/>
<rect x="867" y="923" width="5" height="53" fill="#000"/>
<rect x="868" y="924" width="3" height="51" fill="#d95319"/>
<rect x="872" y="963" width="5" height="106" fill="#000"/>
<rect x="873" y="964" width="3" height="104" fill="#0072bd"/>
<rect x="872" y="912" width="5" height="52" fill="#000"/>
<rect x="873" y="913" width="3" height="50" fill="#d95319"/>
<rect x="877" y="963" width="4" height="106" fill="#000"/>
<rect x="878" y="964" width="2" height="104" fill="#0072bd"/>
<rect x="877" y="917" width="4" height="47" fill="#000"/>
<rect x="878" y="918" width="2" height="45" fill="#d95319"/>
<rect x="881" y="981" width="5" height="88" fill="#000"/>
<rect x="882" y="982" width="3" height="86" fill="#0072bd"/>
<rect x="881" y="922" width="5" height="60" fill="#000"/>
<rect x="882" y="923" width="3" height="58" fill="#d95319"/>
<rect x="886" y="978" width="5" height="91" fill="#000"/>
<rect x="887" y="979" width="3" height="89" fill="#0072bd"/>
<rect x="886" y="927" width="5" height="52" fill="#000"/>
<rect x="887" y="928" width="3" height="50" fill="#d95319"/>
<rect x="891" y="949" width="4" height="120" fill="#000"/>
<rect x="892" y="950" width="2" height="118" fill="#0072bd"/>
<rect x="891" y="896" width="4" height="54" fill="#000"/>
<rect x="892" y="897" width="2" height="52" fill="#d95319"/>
<rect x="895" y="981" width="5" height="88" fill="#000"/>
<rect x="896" y="982" width="3" height="86" fill="#0072bd"/>
<rect x="895" y="929" width="5" height="53" fill="#000"/>
<rect x="896" y="930" width="3" height="51" fill="#d95319"/>
<rect x="900" y="981" width="5" height="88" fill="#000"/>
<rect x="901" y="982" width="3" height="86" fill="#0072bd"/>
<rect x="900" y="926" width="5" height="56" fill="#000"/>
<rect x="901" y="927" width="3" height="54" fill="#d95319"/>
<rect x="905" y="945" width="4" height="124" fill="#000"/>
<rect x="906" y="946" width="2" height="122" fill="#0072bd"/>
<rect x="905" y="896" width="4" height="50" fill="#000"/>
<rect x="906" y="897" width="2" height="48" fill="#d95319"/>
<rect x="909" y="965" width="5" height="104" fill="#000"/>
<rect x="910" y="966" width="3" height="102" fill="#0072bd"/>
<rect x="909" y="917" width="5" height="49" fill="#000"/>
<rect x="910" y="918" width="3" height="47" fill="#d95319"/>
<rect x="914" y="953" width="5" height="116" fill="#000"/>
<rect x="915" y="954" width="3" height="114" fill="#0072bd"/>
<rect x="914" y="902" width="5" height="52" fill="#000"/>
<rect x="915" y="903" width="3" height="50" fill="#d95319"/>
<rect x="919" y="981" width="4" height="88" fill="#000"/>
<rect x="920" y="982" width="2" height="86" fill="#0072bd"/>
<rect x="919" y="923" width="4" height="59" fill="#000"/>
<rect x="920" y="924" width="2" height="57" fill="#d95319"/>
<rect x="923" y="949" width="5" height="120" fill="#000"/>
<rect x="924" y="950" width="3" height="118" fill="#0072bd"/>
<rect x="923" y="894" width="5" height="56" fill="#000"/>
<rect x="924" y="895" width="3" height="54" fill="#d95319"/>
<rect x="928" y="953" width="5" height="116" fill="#000"/>
<rect x="929" y="954" width="3" height="114" fill="#0072bd"/>
<rect x="928" y="902" width="5" height="52" fill="#000"/>
<rect x="929" y="903" width="3" height="50" fill="#d95319"/>
<rect x="932" y="973" width="5" height="96" fill="#000"/>
<rect x="933" y="974" width="3" height="94" fill="#0072bd"/>
<rect x="932" y="921" width="5" height="53" fill="#000"/>
<rect x="933" y="922" width="3" height="51" fill="#d95319"/>
<rect x="937" y="942" width="5" height="127" fill="#000"/>
<rect x="938" y="943" width="3" height="125" fill="#0072bd"/>
<rect x="937" y="895" width="5" height="48" fill="#000"/>
<rect x="938" y="896" width="3" height="46" fill="#d95319"/>
<rect x="942" y="932" width="4" height="137" fill="#000"/>
<rect x="943" y="933" width="2" height="135" fill="#0072bd"/>
<rect x="942" y="878" width="4" height="55" fill="#000"/>
<rect x="943" y="879" width="2" height="53" fill="#d95319"/>
<rect x="946" y="966" width="5" height="103" fill="#000"/>
<rect x="947" y="967" width="3" height="101" fill="#0072bd"/>
<rect x="946" y="914" width="5" height="53" fill="#000"/>
<rect x="947" y="915" width="3" height="51" fill="#d95319"/>
<rect x="951" y="980" width="5" height="89" fill="#000"/>
<rect x="952" y="981" width="3" height="87" fill="#0072bd"/>
<rect x="951" y="931" width="5" height="50" fill="#000"/>
<rect x="952" y="932" width="3" height="48" fill="#d95319"/>
<rect x="956" y="981" width="4" height="88" fill="#000"/>
<rect x="957" y="982" width="2" height="86" fill="#0072bd"/>
<rect x="956" y="918" width="4" height="64" fill="#000"/>
<rect x="957" y="919" width="2" height="62" fill="#d95319"/>
<rect x="960" y="981" width="5" height="88" fill="#000"/>
<rect x="961" y="982" width="3" height="86" fill="#0072bd"/>
<rect x="960" y="932" width="5" height="50" fill="#000"/>
<rect x="961" y="933" width="3" height="48" fill="#d95319"/>
<rect x="965" y="981" width="5" height="88" fill="#000"/>
<rect x="966" y="982" width="3" height="86" fill="#0072bd"/>
<rect x="965" y="931" width="5" height="51" fill="#000"/>
<rect x="966" y="932" width="3" height="49" fill="#d95319"/>
<rect x="970" y="981" width="4" height="88" fill="#000"/>
<rect x="971" y="982" width="2" height="86" fill="#0072bd"/>
<rect x="970" y="929" width="4" height="53" fill="#000"/>
<rect x="971" y="930" width="2" height="51" fill="#d95319"/>
<rect x="974" y="981" width="5" height="88" fill="#000"/>
<rect x="975" y="982" width="3" height="86" fill="#0072bd"/>
<rect x="974" y="930" width="5" height="52" fill="#000"/>
<rect x="975" y="931" width="3" height="50" fill="#d95319"/>
<rect x="979" y="938" width="5" height="131" fill="#000"/>
<rect x="980" y="939" width="3" height="129" fill="#0072bd"/>
<rect x="979" y="885" width="5" height="54" fill="#000"/>
<rect x="980" y="886" width="3" height="52" fill="#d95319"/>
<rect x="983" y="943" width="5" height="126" fill="#000"/>
<rect x="984" y="944" width="3" height="124" fill="#0072bd"/>
<rect x="983" y="891" width="5" height="53" fill="#000"/>
<rect x="984" y="892" width="3" height="51" fill="#d95319"/>
<rect x="988" y="929" width="5" height="140" fill="#000"/>
<rect x="989" y="930" width="3" height="138" fill="#0072bd"/>
<rect x="988" y="878" width="5" height="52" fill="#000"/>
<rect x="989" y="879" width="3" height="50" fill="#d95319"/>
<rect x="993" y="953" width="4" height="116" fill="#000"/>
<rect x="994" y="954" width="2" height="114" fill="#0072bd"/>
<rect x="993" y="903" width="4" height="51" fill="#000"/>
<rect x="994" y="904" width="2" height="49" fill="#d95319"/>
<rect x="997" y="956" width="5" height="113" fill="#000"/>
<rect x="998" y="957" width="3" height="111" fill="#0072bd"/>
<rect x="997" y="906" width="5" height="51" fill="#000"/>
<rect x="998" y="907" width="3" height="49" fill="#d95319"/>
<rect x="1002" y="938" width="5" height="131" fill="#000"/>
<rect x="1003" y="939" width="3" height="129" fill="#0072bd"/>
<rect x="1002" y="889" width="5" height="50" fill="#000"/>
<rect x="1003" y="890" width="3" height="48" fill="#d95319"/>
<rect x="1007" y="953" width="4" height="116" fill="#000"/>
<rect x="1008" y="954" width="2" height="114" fill="#0072bd"/>
<rect x="1007" y="902" width="4" height="52" fill="#000"/>
<rect x="1008" y="903" width="2" height="50" fill="#d95319"/>
<rect x="1011" y="941" width="5" height="128" fill="#000"/>
<rect x="1012" y="942" width="3" height="126" fill="#0072bd"/>
<rect x="1011" y="888" width="5" height="54" fill="#000"/>
<rect x="1012" y="889" width="3" height="52" fill="#d95319"/>
<rect x="1016" y="936" width="5" height="133" fill="#000"/>
<rect x="1017" y="937" width="3" height="131" fill="#0072bd"/>
<rect x="1016" y="886" width="5" height="51" fill="#000"/>
<rect x="1017" y="887" width="3" height="49" fill="#d95319"/>
<rect x="1021" y="948" width="4" height="121" fill="#000"/>
<rect x="1022" y="949" width="2" height="119" fill="#0072bd"/>
<rect x="1021" y="900" width="4" height="49" fill="#000"/>
<rect x="1022" y="901" width="2" height="47" fill="#d95319"/>
<rect x="1025" y="958" width="5" height="111" fill="#000"/>
<rect x="1026" y="959" width="3" height="109" fill="#0072bd"/>
<rect x="1025" y="897" width="5" height="62" fill="#000"/>
<rect x="1026" y="898" width="3" height="60" fill="#d95319"/>
<rect x="1030" y="960" width="5" height="109" fill="#000"/>
<rect x="1031" y="961" width="3" height="107" fill="#0072bd"/>
<rect x="1030" y="909" width="5" height="52" fill="#000"/>
<rect x="1031" y="910" width="3" height="50" fill="#d95319"/>
<rect x="1035" y="937" width="4" height="132" fill="#000"/>
<rect x="1036" y="938" width="2" height="130" fill="#0072bd"/>
<rect x="1035" y="884" width="4" height="54" fill="#000"/>
<rect x="1036" y="885" width="2" height="52" fill="#d95319"/>
<rect x="1039" y="959" width="5" height="110" fill="#000"/>
<rect x="1040" y="960" width="3" height="108" fill="#0072bd"/>
<rect x="1039" y="898" width="5" height="62" fill="#000"/>
<rect x="1040" y="899" width="3" height="60" fill="#d95319"/>
<rect x="1044" y="981" width="5" height="88" fill="#000"/>
<rect x="1045" y="982" width="3" height="86" fill="#0072bd"/>
<rect x="1044" y="929" width="5" height="53" fill="#000"/>
<rect x="1045" y="930" width="3" height="51" fill="#d95319"/>
<rect x="1048" y="965" width="5" height="104" fill="#000"/>
<rect x="1049" y="966" width="3" height="102" fill="#0072bd"/>
<rect x="1048" y="913" width="5" height="53" fill="#000"/>
<rect x="1049" y="914" width="3" height="51" fill="#d95319"/>
<rect x="1053" y="933" width="5" height="136" fill="#000"/>
<rect x="1054" y="934" width="3" height="134" fill="#0072bd"/>
<rect x="1053" y="883" width="5" height="51" fill="#000"/>
<rect x="1054" y="884" width="3" height="49" fill="#d95319"/>
<rect x="1058" y="971" width="4" height="98" fill="#000"/>
<rect x="1059" y="972" width="2" height="96" fill="#0072bd"/>
<rect x="1058" y="910" width="4" height="62" fill="#000"/>
<rect x="1059" y="911" width="2" height="60" fill="#d95319"/>
<rect x="1062" y="981" width="5" height="88" fill="#000"/>
<rect x="1063" y="982" width="3" height="86" fill="#0072bd"/>
<rect x="1062" y="925" width="5" height="57" fill="#000"/>
<rect x="1063" y="926" width="3" height="55" fill="#d95319"/>
<rect x="1067" y="967" width="5" height="102" fill="#000"/>
<rect x="1068" y="968" width="3" height="100" fill="#0072bd"/>
<rect x="1067" y="919" width="5" height="49" fill="#000"/>
<rect x="1068" y="920" width="3" height="47" fill="#d95319"/>
<rect x="1072" y="967" width="4" height="102" fill="#000"/>
<rect x="1073" y="968" width="2" height="100" fill="#0072bd"/>
<rect x="1072" y="911" width="4" height="57" fill="#000"/>
<rect x="1073" y="912" width="2" height="55" fill="#d95319"/>
<rect x="1076" y="947" width="5" height="122" fill="#000"/>
<rect x="1077" y="948" width="3" height="120" fill="#0072bd"/>
<rect x="1076" y="889" width="5" height="59" fill="#000"/>
<rect x="1077" y="890" width="3" height="57" fill="#d95319"/>
<rect x="1081" y="981" width="5" height="88" fill="#000"/>
<rect x="1082" y="982" width="3" height="86" fill="#0072bd"/>
<rect x="1081" y="928" width="5" height="54" fill="#000"/>
<rect x="1082" y="929" width="3" height="52" fill="#d95319"/>
<rect x="1086" y="945" width="4" height="124" fill="#000"/>
<rect x="1087" y="946" width="2" height="122" fill="#0072bd"/>
<rect x="1086" y="894" width="4" height="52" fill="#000"/>
<rect x="1087" y="895" width="2" height="50" fill="#d95319"/>
<rect x="1090" y="955" width="5" height="114" fill="#000"/>
<rect x="1091" y="956" width="3" height="112" fill="#0072bd"/>
<rect x="1090" y="906" width="5" height="50" fill="#000"/>
<rect x="1091" y="907" width="3" height="48" fill="#d95319"/>
<rect x="1095" y="937" width="5" height="132" fill="#000"/>
<rect x="1096" y="938" width="3" height="130" fill="#0072bd"/>
<rect x="1095" y="885" width="5" height="53" fill="#000"/>
<rect x="1096" y="886" width="3" height="51" fill="#d95319"/>
<rect x="1099" y="933" width="5" height="136" fill="#000"/>
<rect x="1100" y="934" width="3" height="134" fill="#0072bd"/>
<rect x="1099" y="884" width="5" height="50" fill="#000"/>
<rect x="1100" y="885" width="3" height="48" fill="#d95319"/>
<rect x="1104" y="938" width="5" height="131" fill="#000"/>
<rect x="1105" y="939" width="3" height="129" fill="#0072bd"/>
<rect x="1104" y="888" width="5" height="51" fill="#000"/>
<rect x="1105" y="889" width="3" height="49" fill="#d95319"/>
<rect x="1109" y="981" width="4" height="88" fill="#000"/>
<rect x="1110" y="982" width="2" height="86" fill="#0072bd"/>
<rect x="1109" y="933" width="4" height="49" fill="#000"/>
<rect x="1110" y="934" width="2" height="47" fill="#d95319"/>
<rect x="1113" y="964" width="5" height="105" fill="#000"/>
<rect x="1114" y="965" width="3" height="103" fill="#0072bd"/>
<rect x="1113" y="904" width="5" height="61" fill="#000"/>
<rect x="1114" y="905" width="3" height="59" fill="#d95319"/>
<rect x="1118" y="947" width="5" height="122" fill="#000"/>
<rect x="1119" y="948" width="3" height="120" fill="#0072bd"/>
<rect x="1118" y="896" width="5" height="52" fill="#000"/>
<rect x="1119" y="897" width="3" height="50" fill="#d95319"/>
<rect x="1123" y="943" width="4" height="126" fill="#000"/>
<rect x="1124" y="944" width="2" height="124" fill="#0072bd"/>
<rect x="1123" y="892" width="4" height="52" fill="#000"/>
<rect x="1124" y="893" width="2" height="50" fill="#d95319"/>
<rect x="1127" y="954" width="5" height="115" fill="#000"/>
<rect x="1128" y="955" width="3" height="113" fill="#0072bd"/>
<rect x="1127" y="900" width="5" height="55" fill="#000"/>
<rect x="1128" y="901" width="3" height="53" fill="#d95319"/>
<rect x="1132" y="945" width="5" height="124" fill="#000"/>
<rect x="1133" y="946" width="3" height="122" fill="#0072bd"/>
<rect x="1132" y="892" width="5" height="54" fill="#000"/>
<rect x="1133" y="893" width="3" height="52" fill="#d95319"/>
<rect x="1137" y="943" width="4" height="126" fill="#000"/>
<rect x="1138" y="944" width="2" height="124" fill="#0072bd"/>
<rect x="1137" y="889" width="4" height="55" fill="#000"/>
<rect x="1138" y="890" width="2" height="53" fill="#d95319"/>
<rect x="1141" y="950" width="5" height="119" fill="#000"/>
<rect x="1142" y="951" width="3" height="117" fill="#0072bd"/>
<rect x="1141" y="900" width="5" height="51" fill="#000"/>
<rect x="1142" y="901" width="3" height="49" fill="#d95319"/>
<rect x="1146" y="931" width="5" height="138" fill="#000"/>
<rect x="1147" y="932" width="3" height="136" fill="#0072bd"/>
<rect x="1146" y="881" width="5" height="51" fill="#000"/>
<rect x="1147" y="882" width="3" height="49" fill="#d95319"/>
<rect x="1151" y="934" width="4" height="135" fill="#000"/>
<rect x="1152" y="935" width="2" height="133" fill="#0072bd"/>
<rect x="1151" y="883" width="4" height="52" fill="#000"/>
<rect x="1152" y="884" width="2" height="50" fill="#d95319"/>
<rect x="1155" y="960" width="5" height="109" fill="#000"/>
<rect x="1156" y="961" width="3" height="107" fill="#0072bd"/>
<rect x="1155" y="913" width="5" height="48" fill="#000"/>
<rect x="1156" y="914" width="3" height="46" fill="#d95319"/>
<rect x="1160" y="920" width="5" height="149" fill="#000"/>
<rect x="1161" y="921" width="3" height="147" fill="#0072bd"/>
<rect x="1160" y="870" width="5" height="51" fill="#000"/>
<rect x="1161" y="871" width="3" height="49" fill="#d95319"/>
<rect x="1164" y="981" width="5" height="88" fill="#000"/>
<rect x="1165" y="982" width="3" height="86" fill="#0072bd"/>
<rect x="1164" y="924" width="5" height="58" fill="#000"/>
<rect x="1165" y="925" width="3" height="56" fill="#d95319"/>
<rect x="1169" y="964" width="5" height="105" fill="#000"/>
<rect x="1170" y="965" width="3" height="103" fill="#0072bd"/>
<rect x="1169" y="913" width="5" height="52" fill="#000"/>
<rect x="1170" y="914" width="3" height="50" fill="#d95319"/>
<rect x="1174" y="964" width="4" height="105" fill="#000"/>
<rect x="1175" y="965" width="2" height="103" fill="#0072bd"/>
<rect x="1174" y="913" width="4" height="52" fill="#000"/>
<rect x="1175" y="914" width="2" height="50" fill="#d95319"/>
<rect x="1178" y="945" width="5" height="124" fill="#000"/>
<rect x="1179" y="946" width="3" height="122" fill="#0072bd"/>
<rect x="1178" y="894" width="5" height="52" fill="#000"/>
<rect x="1179" y="895" width="3" height="50" fill="#d95319"/>
<rect x="1183" y="960" width="5" height="109" fill="#000"/>
<rect x="1184" y="961" width="3" height="107" fill="#0072bd"/>
<rect x="1183" y="910" width="5" height="51" fill="#000"/>
<rect x="1184" y="911" width="3" height="49" fill="#d95319"/>
<rect x="1188" y="981" width="4" height="88" fill="#000"/>
<rect x="1189" y="982" width="2" height="86" fill="#0072bd"/>
<rect x="1188" y="931" width="4" height="51" fill="#000"/>
<rect x="1189" y="932" width="2" height="49" fill="#d95319"/>
<rect x="1192" y="965" width="5" height="104" fill="#000"/>
<rect x="1193" y="966" width="3" height="102" fill="#0072bd"/>
<rect x="1192" y="915" width="5" height="51" fill="#000"/>
<rect x="1193" y="916" width="3" height="49" fill="#d95319"/>
<rect x="1197" y="970" width="5" height="99" fill="#000"/>
<rect x="1198" y="971" width="3" height="97" fill="#0072bd"/>
<rect x="1197" y="919" width="5" height="52" fill="#000"/>
<rect x="1198" y="920" width="3" height="50" fill="#d95319"/>
<rect x="1202" y="945" width="4" height="124" fill="#000"/>
<rect x="1203" y="946" width="2" height="122" fill="#0072bd"/>
<rect x="1202" y="892" width="4" height="54" fill="#000"/>
<rect x="1203" y="893" width="2" height="52" fill="#d95319"/>
<rect x="1206" y="935" width="5" height="134" fill="#000"/>
<rect x="1207" y="936" width="3" height="132" fill="#0072bd"/>
<rect x="1206" y="883" width="5" height="53" fill="#000"/>
<rect x="1207" y="884" width="3" height="51" fill="#d95319"/>
<rect x="1211" y="981" width="5" height="88" fill="#000"/>
<rect x="1212" y="982" width="3" height="86" fill="#0072bd"/>
<rect x="1211" y="929" width="5" height="53" fill="#000"/>
<rect x="1212" y="930" width="3" height="51" fill="#d95319"/>
<rect x="1215" y="935" width="5" height="134" fill="#000"/>
<rect x="1216" y="936" width="3" height="132" fill="#0072bd"/>
<rect x="1215" y="883" width="5" height="53" fill="#000"/>
<rect x="1216" y="884" width="3" height="51" fill="#d95319"/>
<rect x="1220" y="943" width="5" height="126" fill="#000"/>
<rect x="1221" y="944" width="3" height="124" fill="#0072bd"/>
<rect x="1220" y="891" width="5" height="53" fill="#000"/>
<rect x="1221" y="892" width="3" height="51" fill="#d95319"/>
<rect x="1225" y="981" width="4" height="88" fill="#000"/>
<rect x="1226" y="982" width="2" height="86" fill="#0072bd"/>
<rect x="1225" y="929" width="4" height="53" fill="#000"/>
<rect x="1226" y="930" width="2" height="51" fill="#d95319"/>
<rect x="1229" y="972" width="5" height="97" fill="#000"/>
<rect x="1230" y="973" width="3" height="95" fill="#0072bd"/>
<rect x="1229" y="919" width="5" height="54" fill="#000"/>
<rect x="1230" y="920" width="3" height="52" fill="#d95319"/>
<rect x="1234" y="964" width="5" height="105" fill="#000"/>
<rect x="1235" y="965" width="3" height="103" fill="#0072bd"/>
<rect x="1234" y="913" width="5" height="52" fill="#000"/>
<rect x="1235" y="914" width="3" height="50" fill="#d95319"/>
<rect x="1239" y="955" width="4" height="114" fill="#000"/>
<rect x="1240" y="956" width="2" height="112" fill="#0072bd"/>
<rect x="1239" y="900" width="4" height="56" fill="#000"/>
<rect x="1240" y="901" width="2" height="54" fill="#d95319"/>
<rect x="1243" y="960" width="5" height="109" fill="#000"/>
<rect x="1244" y="961" width="3" height="107" fill="#0072bd"/>
<rect x="1243" y="910" width="5" height="51" fill="#000"/>
<rect x="1244" y="911" width="3" height="49" fill="#d95319"/>
<rect x="1248" y="975" width="5" height="94" fill="#000"/>
<rect x="1249" y="976" width="3" height="92" fill="#0072bd"/>
<rect x="1248" y="924" width="5" height="52" fill="#000"/>
<rect x="1249" y="925" width="3" height="50" fill="#d95319"/>
<rect x="1253" y="951" width="4" height="118" fill="#000"/>
<rect x="1254" y="952" width="2" height="116" fill="#0072bd"/>
<rect x="1253" y="893" width="4" height="59" fill="#000"/>
<rect x="1254" y="894" width="2" height="57" fill="#d95319"/>
<rect x="1257" y="941" width="5" height="128" fill="#000"/>
<rect x="1258" y="942" width="3" height="126" fill="#0072bd"/>
<rect x="1257" y="891" width="5" height="51" fill="#000"/>
<rect x="1258" y="892" width="3" height="49" fill="#d95319"/>
<rect x="1262" y="952" width="5" height="117" fill="#000"/>
<rect x="1263" y="953" width="3" height="115" fill="#0072bd"/>
<rect x="1262" y="886" width="5" height="67" fill="#000"/>
<rect x="1263" y="887" width="3" height="65" fill="#d95319"/>
<rect x="1267" y="953" width="4" height="116" fill="#000"/>
<rect x="1268" y="954" width="2" height="114" fill="#0072bd"/>
<rect x="1267" y="903" width="4" height="51" fill="#000"/>
<rect x="1268" y="904" width="2" height="49" fill="#d95319"/>
<rect x="1271" y="978" width="5" height="91" fill="#000"/>
<rect x="1272" y="979" width="3" height="89" fill="#0072bd"/>
<rect x="1271" y="919" width="5" height="60" fill="#000"/>
<rect x="1272" y="920" width="3" height="58" fill="#d95319"/>
<rect x="1276" y="952" width="5" height="117" fill="#000"/>
<rect x="1277" y="953" width="3" height="115" fill="#0072bd"/>
<rect x="1276" y="900" width="5" height="53" fill="#000"/>
<rect x="1277" y="901" width="3" height="51" fill="#d95319"/>
<rect x="1280" y="943" width="5" height="126" fill="#000"/>
<rect x="1281" y="944" width="3" height="124" fill="#0072bd"/>
<rect x="1280" y="891" width="5" height="53" fill="#000"/>
<rect x="1281" y="892" width="3" height="51" fill="#d95319"/>
<rect x="1285" y="940" width="5" height="129" fill="#000"/>
<rect x="1286" y="941" width="3" height="127" fill="#0072bd"/>
<rect x="1285" y="888" width="5" height="53" fill="#000"/>
<rect x="1286" y="889" width="3" height="51" fill="#d95319"/>
<rect x="1290" y="938" width="4" height="131" fill="#000"/>
<rect x="1291" y="939" width="2" height="129" fill="#0072bd"/>
<rect x="1290" y="885" width="4" height="54" fill="#000"/>
<rect x="1291" y="886" width="2" height="52" fill="#d95319"/>
<rect x="1294" y="970" width="5" height="99" fill="#000"/>
<rect x="1295" y="971" width="3" height="97" fill="#0072bd"/>
<rect x="1294" y="910" width="5" height="61" fill="#000"/>
<rect x="1295" y="911" width="3" height="59" fill="#d95319"/>
<rect x="1299" y="970" width="5" height="99" fill="#000"/>
<rect x="1300" y="971" width="3" height="97" fill="#0072bd"/>
<rect x="1299" y="907" width="5" height="64" fill="#000"/>
<rect x="1300" y="908" width="3" height="62" fill="#d95319"/>
<rect x="1304" y="981" width="4" height="88" fill="#000"/>
<rect x="1305" y="982" width="2" height="86" fill="#0072bd"/>
<rect x="1304" y="931" width="4" height="51" fill="#000"/>
<rect x="1305" y="932" width="2" height="49" fill="#d95319"/>
<rect x="1308" y="939" width="5" height="130" fill="#000"/>
<rect x="1309" y="940" width="3" height="128" fill="#0072bd"/>
<rect x="1308" y="891" width="5" height="49" fill="#000"/>
<rect x="1309" y="892" width="3" height="47" fill="#d95319"/>
<rect x="1313" y="970" width="5" height="99" fill="#000"/>
<rect x="1314" y="971" width="3" height="97" fill="#0072bd"/>
<rect x="1313" y="921" width="5" height="50" fill="#000"/>
<rect x="1314" y="922" width="3" height="48" fill="#d95319"/>
<rect x="1318" y="981" width="4" height="88" fill="#000"/>
<rect x="1319" y="982" width="2" height="86" fill="#0072bd"/>
<rect x="1318" y="922" width="4" height="60" fill="#000"/>
<rect x="1319" y="923" width="2" height="58" fill="#d95319"/>
<rect x="1322" y="931" width="5" height="138" fill="#000"/>
<rect x="1323" y="932" width="3" height="136" fill="#0072bd"/>
<rect x="1322" y="883" width="5" height="49" fill="#000"/>
<rect x="1323" y="884" width="3" height="47" fill="#d95319"/>
<rect x="1327" y="969" width="5" height="100" fill="#000"/>
<rect x="1328" y="970" width="3" height="98" fill="#0072bd"/>
<rect x="1327" y="911" width="5" height="59" fill="#000"/>
<rect x="1328" y="912" width="3" height="57" fill="#d95319"/>
<rect x="1331" y="922" width="5" height="147" fill="#000"/>
<rect x="1332" y="923" width="3" height="145" fill="#0072bd"/>
<rect x="1331" y="875" width="5" height="48" fill="#000"/>
<rect x="1332" y="876" width="3" height="46" fill="#d95319"/>
<rect x="1336" y="961" width="5" height="108" fill="#000"/>
<rect x="1337" y="962" width="3" height="106" fill="#0072bd"/>
<rect x="1336" y="913" width="5" height="49" fill="#000"/>
<rect x="1337" y="914" width="3" height="47" fill="#d95319"/>
<rect x="1341" y="948" width="4" height="121" fill="#000"/>
<rect x="1342" y="949" width="2" height="119" fill="#0072bd"/>
<rect x="1341" y="896" width="4" height="53" fill="#000"/>
<rect x="1342" y="897" width="2" height="51" fill="#d95319"/>
<rect x="1345" y="927" width="5" height="142" fill="#000"/>
<rect x="1346" y="928" width="3" height="140" fill="#0072bd"/>
<rect x="1345" y="877" width="5" height="51" fill="#000"/>
<rect x="1346" y="878" width="3" height="49" fill="#d95319"/>
<rect x="1350" y="895" width="5" height="174" fill="#000"/>
<rect x="1351" y="896" width="3" height="172" fill="#0072bd"/>
<rect x="1350" y="835" width="5" height="61" fill="#000"/>
<rect x="1351" y="836" width="3" height="59" fill="#d95319"/>
<rect x="856" y="809" width="501" height="1" fill="#262626"/>
<rect x="856" y="1067" width="501" height="1" fill="#262626"/>
<rect x="856" y="809" width="1" height="259" fill="#262626"/>
<rect x="1356" y="809" width="1" height="259" fill="#262626"/>
<rect x="860" y="1062" width="1" height="6" fill="#262626"/>
<rect x="860" y="809" width="1" height="6" fill="#262626"/>
<text x="860.55" y="1096" font-size="21.9" text-anchor="middle" font-weight="normal" fill="#262626" textLength="13.55" lengthAdjust="spacingAndGlyphs">0</text>
<rect x="953" y="1062" width="1" height="6" fill="#262626"/>
<rect x="953" y="809" width="1" height="6" fill="#262626"/>
<text x="953.35" y="1096" font-size="21.9" text-anchor="middle" font-weight="normal" fill="#262626" textLength="27.1" lengthAdjust="spacingAndGlyphs">20</text>
<rect x="1046" y="1062" width="1" height="6" fill="#262626"/>
<rect x="1046" y="809" width="1" height="6" fill="#262626"/>
<text x="1046.15" y="1096" font-size="21.9" text-anchor="middle" font-weight="normal" fill="#262626" textLength="27.1" lengthAdjust="spacingAndGlyphs">40</text>
<rect x="1138" y="1062" width="1" height="6" fill="#262626"/>
<rect x="1138" y="809" width="1" height="6" fill="#262626"/>
<text x="1138.95" y="1096" font-size="21.9" text-anchor="middle" font-weight="normal" fill="#262626" textLength="27.1" lengthAdjust="spacingAndGlyphs">60</text>
<rect x="1231" y="1062" width="1" height="6" fill="#262626"/>
<rect x="1231" y="809" width="1" height="6" fill="#262626"/>
<text x="1231.75" y="1096" font-size="21.9" text-anchor="middle" font-weight="normal" fill="#262626" textLength="27.1" lengthAdjust="spacingAndGlyphs">80</text>
<rect x="1324" y="1062" width="1" height="6" fill="#262626"/>
<rect x="1324" y="809" width="1" height="6" fill="#262626"/>
<text x="1324.55" y="1096" font-size="21.9" text-anchor="middle" font-weight="normal" fill="#262626" textLength="40.65" lengthAdjust="spacingAndGlyphs">100</text>
<text x="847.3" y="1076.2" font-size="21.9" text-anchor="end" font-weight="normal" fill="#262626" textLength="13.55" lengthAdjust="spacingAndGlyphs">0</text>
<rect x="856" y="981" width="6" height="1" fill="#262626"/>
<rect x="1351" y="981" width="6" height="1" fill="#262626"/>
<text x="847.3" y="990.2" font-size="21.9" text-anchor="end" font-weight="normal" fill="#262626" textLength="40.65" lengthAdjust="spacingAndGlyphs">200</text>
<rect x="856" y="895" width="6" height="1" fill="#262626"/>
<rect x="1351" y="895" width="6" height="1" fill="#262626"/>
<text x="847.3" y="904.2" font-size="21.9" text-anchor="end" font-weight="normal" fill="#262626" textLength="40.65" lengthAdjust="spacingAndGlyphs">400</text>
<text x="847.3" y="818.2" font-size="21.9" text-anchor="end" font-weight="normal" fill="#262626" textLength="40.65" lengthAdjust="spacingAndGlyphs">600</text>
<text x="1107" y="800.1" font-size="24" text-anchor="middle" font-weight="bold" fill="#000" textLength="219" lengthAdjust="spacingAndGlyphs">7574: Pump time</text>
<text transform="translate(794.8,938.7) rotate(-90)" font-size="24.4" text-anchor="middle" font-weight="normal" fill="#262626" textLength="192.5" lengthAdjust="spacingAndGlyphs">Pump Time (sec)</text>
<rect x="873" y="1005" width="164" height="51" fill="#262626"/><rect x="874" y="1006" width="162" height="49" fill="#fff"/>
<rect x="879" y="1011" width="63" height="17" fill="#000"/><rect x="880" y="1012" width="61" height="15" fill="#0072bd"/>
<rect x="879" y="1033" width="63" height="17" fill="#000"/><rect x="880" y="1034" width="61" height="15" fill="#d95319"/>
<text x="948" y="1024.8" font-size="17.4" text-anchor="start" font-weight="normal" fill="#000" textLength="82" lengthAdjust="spacingAndGlyphs">PumpT Lo</text>
<text x="948" y="1047.2" font-size="17.4" text-anchor="start" font-weight="normal" fill="#000" textLength="79" lengthAdjust="spacingAndGlyphs">PumpT Hi</text>
<text x="150.4" y="1181.5" font-size="16.7" text-anchor="start" font-weight="normal" fill="#000" textLength="204" lengthAdjust="spacingAndGlyphs">Argo WHOI 28-Nov-2025</text>
<text x="1106.5" y="1124.6" font-size="24.4" text-anchor="middle" font-weight="normal" fill="#262626" textLength="84" lengthAdjust="spacingAndGlyphs">cycle #</text>
</svg></body></html>
